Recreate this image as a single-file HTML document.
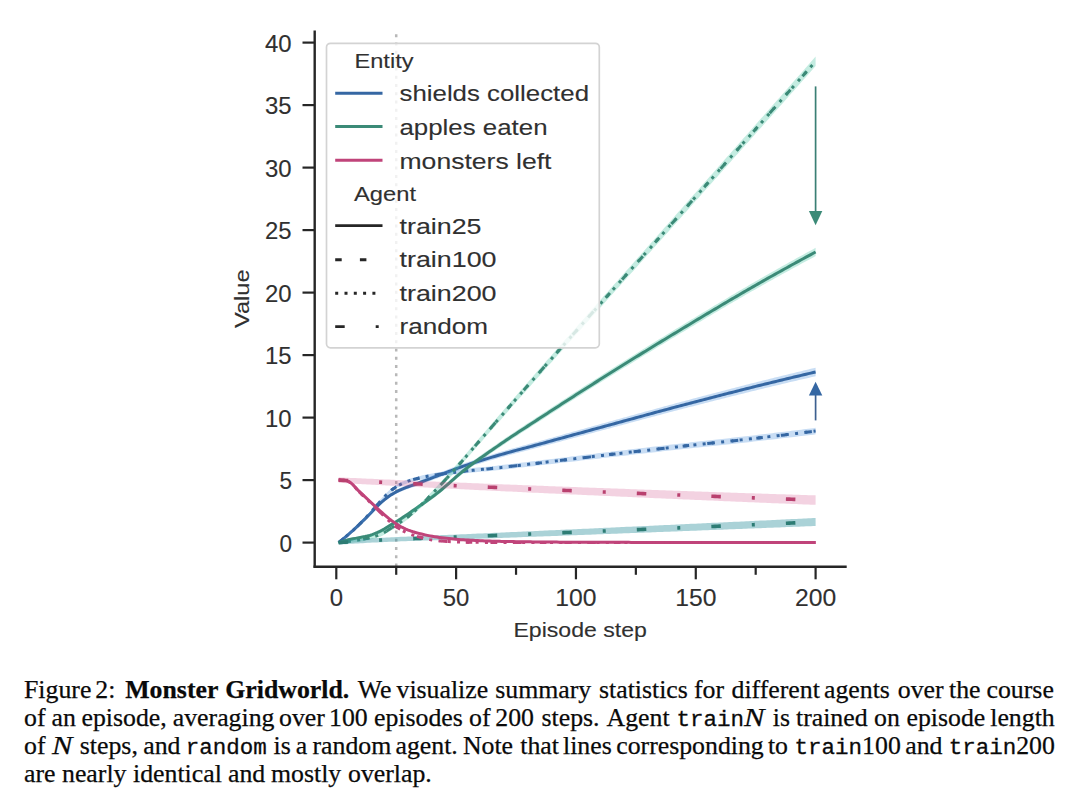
<!DOCTYPE html>
<html><head><meta charset="utf-8"><style>
html,body{margin:0;padding:0;background:#fff;width:1080px;height:810px;overflow:hidden}
svg{position:absolute;left:0;top:0}
text{font-family:"Liberation Sans",sans-serif;fill:#303030;stroke:#303030;stroke-width:0.12px}
.w{position:absolute;white-space:nowrap;font-family:"Liberation Serif",serif;font-size:25.8px;line-height:28px;color:#0a0a0a;-webkit-text-stroke:0.25px #0a0a0a}
.w b{font-weight:bold}
.nn{font-style:italic;display:inline-block;transform:scaleX(1.19);transform-origin:0 0}
.tt{font-family:"Liberation Mono",monospace;font-size:22.5px;-webkit-text-stroke:0.3px #0a0a0a}
</style></head><body>
<svg width="1080" height="810" viewBox="0 0 1080 810">
<defs><clipPath id="cp"><rect x="315" y="20" width="540" height="546"/></clipPath></defs>
<g clip-path="url(#cp)">
<line x1="396.21" y1="34.3" x2="396.21" y2="566" stroke="#b8b8b8" stroke-width="2.5" stroke-dasharray="3 5.27"/>
<path d="M338.70,541.85 L341.09,539.66 L343.49,537.57 L345.89,535.45 L348.28,533.31 L350.68,531.13 L353.08,528.91 L355.47,526.66 L357.87,524.37 L360.26,522.04 L362.66,519.65 L365.06,517.23 L367.45,514.79 L369.85,512.35 L372.25,509.81 L374.64,507.23 L377.04,504.69 L379.44,502.32 L381.83,500.16 L384.23,498.10 L386.63,496.14 L389.02,494.34 L391.42,492.71 L393.82,491.26 L396.21,489.93 L398.61,488.70 L401.01,487.56 L403.40,486.51 L405.80,485.56 L408.19,484.69 L410.59,483.84 L412.99,482.98 L415.38,482.07 L417.78,481.16 L420.18,480.23 L422.57,479.31 L424.97,478.38 L427.37,477.44 L429.76,476.51 L432.16,475.58 L434.56,474.65 L436.95,473.73 L439.35,472.80 L441.75,471.87 L444.14,470.93 L446.54,469.98 L448.94,469.04 L451.33,468.11 L453.73,467.18 L456.12,466.27 L458.52,465.37 L460.92,464.49 L463.31,463.64 L465.71,462.81 L468.11,461.99 L470.50,461.19 L472.90,460.40 L475.30,459.62 L477.69,458.85 L480.09,458.09 L482.49,457.34 L484.88,456.60 L487.28,455.87 L489.68,455.14 L492.07,454.42 L494.47,453.70 L496.87,452.99 L499.26,452.28 L501.66,451.57 L504.06,450.88 L506.45,450.19 L508.85,449.52 L511.24,448.85 L513.64,448.19 L516.04,447.53 L518.43,446.88 L520.83,446.22 L523.23,445.57 L525.62,444.92 L528.02,444.27 L530.42,443.62 L532.81,442.96 L535.21,442.30 L537.61,441.63 L540.00,440.97 L542.40,440.30 L544.80,439.63 L547.19,438.97 L549.59,438.30 L551.99,437.63 L554.38,436.96 L556.78,436.29 L559.17,435.63 L561.57,434.96 L563.97,434.29 L566.36,433.62 L568.76,432.95 L571.16,432.28 L573.55,431.61 L575.95,430.94 L578.35,430.28 L580.74,429.61 L583.14,428.94 L585.54,428.27 L587.93,427.60 L590.33,426.93 L592.73,426.27 L595.12,425.60 L597.52,424.93 L599.91,424.26 L602.31,423.60 L604.71,422.93 L607.10,422.27 L609.50,421.60 L611.90,420.94 L614.29,420.27 L616.69,419.61 L619.09,418.94 L621.48,418.28 L623.88,417.61 L626.28,416.95 L628.67,416.28 L631.07,415.61 L633.47,414.95 L635.86,414.28 L638.26,413.61 L640.66,412.95 L643.05,412.28 L645.45,411.62 L647.85,410.95 L650.24,410.29 L652.64,409.63 L655.03,408.97 L657.43,408.31 L659.83,407.65 L662.22,406.99 L664.62,406.34 L667.02,405.68 L669.41,405.03 L671.81,404.38 L674.21,403.73 L676.60,403.09 L679.00,402.44 L681.40,401.80 L683.79,401.16 L686.19,400.52 L688.59,399.88 L690.98,399.24 L693.38,398.60 L695.78,397.96 L698.17,397.32 L700.57,396.69 L702.96,396.05 L705.36,395.42 L707.76,394.78 L710.15,394.15 L712.55,393.52 L714.95,392.89 L717.34,392.26 L719.74,391.64 L722.14,391.01 L724.53,390.38 L726.93,389.76 L729.33,389.14 L731.72,388.52 L734.12,387.90 L736.52,387.28 L738.91,386.66 L741.31,386.05 L743.71,385.43 L746.10,384.82 L748.50,384.21 L750.89,383.60 L753.29,382.99 L755.69,382.39 L758.08,381.78 L760.48,381.18 L762.88,380.58 L765.27,379.98 L767.67,379.38 L770.07,378.78 L772.46,378.19 L774.86,377.59 L777.26,377.00 L779.65,376.41 L782.05,375.82 L784.45,375.24 L786.84,374.65 L789.24,374.06 L791.63,373.48 L794.03,372.90 L796.43,372.32 L798.82,371.74 L801.22,371.16 L803.62,370.59 L806.01,370.01 L808.41,369.44 L810.81,368.87 L813.20,368.29 L815.60,367.73 L815.60,376.23 L813.20,376.78 L810.81,377.33 L808.41,377.88 L806.01,378.44 L803.62,379.00 L801.22,379.56 L798.82,380.12 L796.43,380.68 L794.03,381.24 L791.63,381.80 L789.24,382.37 L786.84,382.93 L784.45,383.50 L782.05,384.07 L779.65,384.64 L777.26,385.22 L774.86,385.79 L772.46,386.36 L770.07,386.94 L767.67,387.52 L765.27,388.10 L762.88,388.68 L760.48,389.26 L758.08,389.85 L755.69,390.43 L753.29,391.02 L750.89,391.61 L748.50,392.20 L746.10,392.79 L743.71,393.38 L741.31,393.98 L738.91,394.58 L736.52,395.17 L734.12,395.77 L731.72,396.37 L729.33,396.97 L726.93,397.58 L724.53,398.18 L722.14,398.79 L719.74,399.39 L717.34,400.00 L714.95,400.61 L712.55,401.22 L710.15,401.83 L707.76,402.44 L705.36,403.05 L702.96,403.67 L700.57,404.28 L698.17,404.90 L695.78,405.52 L693.38,406.13 L690.98,406.75 L688.59,407.37 L686.19,407.99 L683.79,408.61 L681.40,409.24 L679.00,409.86 L676.60,410.48 L674.21,411.11 L671.81,411.73 L669.41,412.36 L667.02,412.99 L664.62,413.62 L662.22,414.26 L659.83,414.89 L657.43,415.53 L655.03,416.17 L652.64,416.81 L650.24,417.45 L647.85,418.09 L645.45,418.73 L643.05,419.37 L640.66,420.02 L638.26,420.66 L635.86,421.30 L633.47,421.95 L631.07,422.59 L628.67,423.24 L626.28,423.88 L623.88,424.52 L621.48,425.17 L619.09,425.81 L616.69,426.45 L614.29,427.09 L611.90,427.73 L609.50,428.38 L607.10,429.02 L604.71,429.66 L602.31,430.30 L599.91,430.95 L597.52,431.59 L595.12,432.23 L592.73,432.88 L590.33,433.52 L587.93,434.16 L585.54,434.81 L583.14,435.45 L580.74,436.09 L578.35,436.74 L575.95,437.38 L573.55,438.03 L571.16,438.67 L568.76,439.31 L566.36,439.96 L563.97,440.60 L561.57,441.24 L559.17,441.89 L556.78,442.53 L554.38,443.17 L551.99,443.81 L549.59,444.45 L547.19,445.09 L544.80,445.73 L542.40,446.37 L540.00,447.01 L537.61,447.65 L535.21,448.29 L532.81,448.93 L530.42,449.56 L528.02,450.18 L525.62,450.80 L523.23,451.43 L520.83,452.05 L518.43,452.67 L516.04,453.30 L513.64,453.93 L511.24,454.56 L508.85,455.20 L506.45,455.85 L504.06,456.50 L501.66,457.16 L499.26,457.84 L496.87,458.52 L494.47,459.20 L492.07,459.88 L489.68,460.58 L487.28,461.27 L484.88,461.98 L482.49,462.69 L480.09,463.40 L477.69,464.13 L475.30,464.87 L472.90,465.61 L470.50,466.37 L468.11,467.14 L465.71,467.92 L463.31,468.72 L460.92,469.54 L458.52,470.38 L456.12,471.24 L453.73,472.12 L451.33,473.01 L448.94,473.91 L446.54,474.81 L444.14,475.72 L441.75,476.62 L439.35,477.52 L436.95,478.40 L434.56,479.29 L432.16,480.18 L429.76,481.07 L427.37,481.96 L424.97,482.85 L422.57,483.74 L420.18,484.63 L417.78,485.51 L415.38,486.38 L412.99,487.24 L410.59,488.06 L408.19,488.86 L405.80,489.69 L403.40,490.59 L401.01,491.59 L398.61,492.68 L396.21,493.86 L393.82,495.14 L391.42,496.54 L389.02,498.11 L386.63,499.86 L384.23,501.76 L381.83,503.77 L379.44,505.87 L377.04,508.18 L374.64,510.65 L372.25,513.17 L369.85,515.63 L367.45,518.01 L365.06,520.38 L362.66,522.72 L360.26,525.03 L357.87,527.28 L355.47,529.48 L353.08,531.63 L350.68,533.74 L348.28,535.80 L345.89,537.81 L343.49,539.77 L341.09,541.65 L338.70,543.35 Z" fill="#4a90d9" opacity="0.3"/>
<path d="M338.70,542.60 L341.09,540.65 L343.49,538.67 L345.89,536.63 L348.28,534.56 L350.68,532.43 L353.08,530.27 L355.47,528.07 L357.87,525.83 L360.26,523.53 L362.66,521.19 L365.06,518.81 L367.45,516.40 L369.85,513.99 L372.25,511.49 L374.64,508.94 L377.04,506.44 L379.44,504.09 L381.83,501.97 L384.23,499.93 L386.63,498.00 L389.02,496.22 L391.42,494.62 L393.82,493.20 L396.21,491.89 L398.61,490.69 L401.01,489.58 L403.40,488.55 L405.80,487.63 L408.19,486.77 L410.59,485.95 L412.99,485.11 L415.38,484.23 L417.78,483.33 L420.18,482.43 L422.57,481.52 L424.97,480.61 L427.37,479.70 L429.76,478.79 L432.16,477.88 L434.56,476.97 L436.95,476.07 L439.35,475.16 L441.75,474.24 L444.14,473.32 L446.54,472.40 L448.94,471.48 L451.33,470.56 L453.73,469.65 L456.12,468.76 L458.52,467.88 L460.92,467.01 L463.31,466.18 L465.71,465.36 L468.11,464.57 L470.50,463.78 L472.90,463.01 L475.30,462.24 L477.69,461.49 L480.09,460.75 L482.49,460.01 L484.88,459.29 L487.28,458.57 L489.68,457.86 L492.07,457.15 L494.47,456.45 L496.87,455.75 L499.26,455.06 L501.66,454.37 L504.06,453.69 L506.45,453.02 L508.85,452.36 L511.24,451.71 L513.64,451.06 L516.04,450.41 L518.43,449.77 L520.83,449.14 L523.23,448.50 L525.62,447.86 L528.02,447.23 L530.42,446.59 L532.81,445.94 L535.21,445.30 L537.61,444.64 L540.00,443.99 L542.40,443.34 L544.80,442.68 L547.19,442.03 L549.59,441.38 L551.99,440.72 L554.38,440.07 L556.78,439.41 L559.17,438.76 L561.57,438.10 L563.97,437.44 L566.36,436.79 L568.76,436.13 L571.16,435.48 L573.55,434.82 L575.95,434.16 L578.35,433.51 L580.74,432.85 L583.14,432.19 L585.54,431.54 L587.93,430.88 L590.33,430.23 L592.73,429.57 L595.12,428.92 L597.52,428.26 L599.91,427.60 L602.31,426.95 L604.71,426.30 L607.10,425.64 L609.50,424.99 L611.90,424.33 L614.29,423.68 L616.69,423.03 L619.09,422.38 L621.48,421.72 L623.88,421.07 L626.28,420.41 L628.67,419.76 L631.07,419.10 L633.47,418.45 L635.86,417.79 L638.26,417.14 L640.66,416.48 L643.05,415.83 L645.45,415.17 L647.85,414.52 L650.24,413.87 L652.64,413.22 L655.03,412.57 L657.43,411.92 L659.83,411.27 L662.22,410.62 L664.62,409.98 L667.02,409.34 L669.41,408.70 L671.81,408.06 L674.21,407.42 L676.60,406.78 L679.00,406.15 L681.40,405.52 L683.79,404.89 L686.19,404.25 L688.59,403.62 L690.98,402.99 L693.38,402.37 L695.78,401.74 L698.17,401.11 L700.57,400.48 L702.96,399.86 L705.36,399.24 L707.76,398.61 L710.15,397.99 L712.55,397.37 L714.95,396.75 L717.34,396.13 L719.74,395.51 L722.14,394.90 L724.53,394.28 L726.93,393.67 L729.33,393.06 L731.72,392.44 L734.12,391.83 L736.52,391.23 L738.91,390.62 L741.31,390.01 L743.71,389.41 L746.10,388.81 L748.50,388.20 L750.89,387.60 L753.29,387.01 L755.69,386.41 L758.08,385.81 L760.48,385.22 L762.88,384.63 L765.27,384.04 L767.67,383.45 L770.07,382.86 L772.46,382.28 L774.86,381.69 L777.26,381.11 L779.65,380.53 L782.05,379.95 L784.45,379.37 L786.84,378.79 L789.24,378.22 L791.63,377.64 L794.03,377.07 L796.43,376.50 L798.82,375.93 L801.22,375.36 L803.62,374.79 L806.01,374.23 L808.41,373.66 L810.81,373.10 L813.20,372.54 L815.60,371.98" fill="none" stroke="#3567a3" stroke-width="3.0"/>
<path d="M338.70,541.60 L341.09,539.50 L343.49,537.44 L345.89,535.36 L348.28,533.24 L350.68,531.10 L353.08,528.92 L355.47,526.68 L357.87,524.38 L360.26,521.99 L362.66,519.52 L365.06,516.98 L367.45,514.39 L369.85,511.74 L372.25,508.97 L374.64,506.10 L377.04,503.24 L379.44,500.48 L381.83,497.88 L384.23,495.28 L386.63,492.76 L389.02,490.44 L391.42,488.41 L393.82,486.66 L396.21,485.05 L398.61,483.61 L401.01,482.32 L403.40,481.21 L405.80,480.21 L408.19,479.31 L410.59,478.51 L412.99,477.78 L415.38,477.13 L417.78,476.51 L420.18,475.93 L422.57,475.37 L424.97,474.85 L427.37,474.35 L429.76,473.88 L432.16,473.44 L434.56,473.02 L436.95,472.62 L439.35,472.24 L441.75,471.88 L444.14,471.54 L446.54,471.21 L448.94,470.90 L451.33,470.60 L453.73,470.31 L456.12,470.02 L458.52,469.74 L460.92,469.46 L463.31,469.18 L465.71,468.90 L468.11,468.63 L470.50,468.37 L472.90,468.11 L475.30,467.86 L477.69,467.62 L480.09,467.37 L482.49,467.13 L484.88,466.89 L487.28,466.64 L489.68,466.40 L492.07,466.15 L494.47,465.90 L496.87,465.64 L499.26,465.37 L501.66,465.10 L504.06,464.82 L506.45,464.54 L508.85,464.25 L511.24,463.96 L513.64,463.67 L516.04,463.37 L518.43,463.08 L520.83,462.78 L523.23,462.48 L525.62,462.18 L528.02,461.88 L530.42,461.58 L532.81,461.29 L535.21,460.99 L537.61,460.70 L540.00,460.41 L542.40,460.11 L544.80,459.82 L547.19,459.52 L549.59,459.23 L551.99,458.94 L554.38,458.64 L556.78,458.35 L559.17,458.05 L561.57,457.76 L563.97,457.47 L566.36,457.17 L568.76,456.88 L571.16,456.58 L573.55,456.29 L575.95,455.99 L578.35,455.70 L580.74,455.41 L583.14,455.11 L585.54,454.82 L587.93,454.53 L590.33,454.24 L592.73,453.94 L595.12,453.65 L597.52,453.36 L599.91,453.07 L602.31,452.78 L604.71,452.49 L607.10,452.20 L609.50,451.91 L611.90,451.62 L614.29,451.34 L616.69,451.05 L619.09,450.76 L621.48,450.48 L623.88,450.19 L626.28,449.90 L628.67,449.62 L631.07,449.33 L633.47,449.05 L635.86,448.76 L638.26,448.48 L640.66,448.20 L643.05,447.91 L645.45,447.63 L647.85,447.35 L650.24,447.07 L652.64,446.78 L655.03,446.50 L657.43,446.22 L659.83,445.94 L662.22,445.66 L664.62,445.38 L667.02,445.11 L669.41,444.83 L671.81,444.55 L674.21,444.28 L676.60,444.00 L679.00,443.73 L681.40,443.45 L683.79,443.18 L686.19,442.91 L688.59,442.64 L690.98,442.37 L693.38,442.11 L695.78,441.84 L698.17,441.58 L700.57,441.31 L702.96,441.05 L705.36,440.78 L707.76,440.52 L710.15,440.25 L712.55,439.99 L714.95,439.73 L717.34,439.46 L719.74,439.20 L722.14,438.94 L724.53,438.67 L726.93,438.41 L729.33,438.14 L731.72,437.87 L734.12,437.61 L736.52,437.34 L738.91,437.07 L741.31,436.80 L743.71,436.53 L746.10,436.25 L748.50,435.98 L750.89,435.70 L753.29,435.43 L755.69,435.15 L758.08,434.87 L760.48,434.59 L762.88,434.30 L765.27,434.02 L767.67,433.73 L770.07,433.45 L772.46,433.16 L774.86,432.87 L777.26,432.59 L779.65,432.30 L782.05,432.01 L784.45,431.71 L786.84,431.42 L789.24,431.13 L791.63,430.83 L794.03,430.54 L796.43,430.24 L798.82,429.95 L801.22,429.65 L803.62,429.35 L806.01,429.05 L808.41,428.75 L810.81,428.45 L813.20,428.15 L815.60,427.85 L815.60,434.35 L813.20,434.64 L810.81,434.93 L808.41,435.22 L806.01,435.51 L803.62,435.79 L801.22,436.08 L798.82,436.37 L796.43,436.65 L794.03,436.94 L791.63,437.22 L789.24,437.50 L786.84,437.78 L784.45,438.06 L782.05,438.34 L779.65,438.62 L777.26,438.90 L774.86,439.18 L772.46,439.45 L770.07,439.73 L767.67,440.00 L765.27,440.28 L762.88,440.55 L760.48,440.82 L758.08,441.09 L755.69,441.36 L753.29,441.62 L750.89,441.89 L748.50,442.15 L746.10,442.41 L743.71,442.67 L741.31,442.93 L738.91,443.19 L736.52,443.45 L734.12,443.70 L731.72,443.96 L729.33,444.21 L726.93,444.47 L724.53,444.72 L722.14,444.97 L719.74,445.22 L717.34,445.47 L714.95,445.72 L712.55,445.98 L710.15,446.23 L707.76,446.48 L705.36,446.73 L702.96,446.98 L700.57,447.23 L698.17,447.48 L695.78,447.74 L693.38,447.99 L690.98,448.24 L688.59,448.50 L686.19,448.75 L683.79,449.01 L681.40,449.27 L679.00,449.53 L676.60,449.79 L674.21,450.05 L671.81,450.31 L669.41,450.58 L667.02,450.84 L664.62,451.10 L662.22,451.37 L659.83,451.64 L657.43,451.90 L655.03,452.17 L652.64,452.43 L650.24,452.70 L647.85,452.97 L645.45,453.24 L643.05,453.51 L640.66,453.78 L638.26,454.05 L635.86,454.32 L633.47,454.59 L631.07,454.86 L628.67,455.13 L626.28,455.40 L623.88,455.67 L621.48,455.94 L619.09,456.21 L616.69,456.48 L614.29,456.76 L611.90,457.03 L609.50,457.30 L607.10,457.58 L604.71,457.85 L602.31,458.12 L599.91,458.40 L597.52,458.68 L595.12,458.95 L592.73,459.23 L590.33,459.50 L587.93,459.78 L585.54,460.06 L583.14,460.34 L580.74,460.61 L578.35,460.89 L575.95,461.17 L573.55,461.45 L571.16,461.72 L568.76,462.00 L566.36,462.28 L563.97,462.56 L561.57,462.84 L559.17,463.11 L556.78,463.39 L554.38,463.67 L551.99,463.95 L549.59,464.22 L547.19,464.50 L544.80,464.78 L542.40,465.05 L540.00,465.33 L537.61,465.60 L535.21,465.88 L532.81,466.16 L530.42,466.44 L528.02,466.72 L525.62,467.00 L523.23,467.28 L520.83,467.56 L518.43,467.84 L516.04,468.12 L513.64,468.40 L511.24,468.67 L508.85,468.94 L506.45,469.21 L504.06,469.47 L501.66,469.73 L499.26,469.98 L496.87,470.23 L494.47,470.47 L492.07,470.70 L489.68,470.93 L487.28,471.15 L484.88,471.38 L482.49,471.60 L480.09,471.82 L477.69,472.04 L475.30,472.27 L472.90,472.50 L470.50,472.74 L468.11,472.98 L465.71,473.23 L463.31,473.48 L460.92,473.74 L458.52,474.00 L456.12,474.25 L453.73,474.52 L451.33,474.78 L448.94,475.06 L446.54,475.35 L444.14,475.65 L441.75,475.97 L439.35,476.30 L436.95,476.66 L434.56,477.03 L432.16,477.43 L429.76,477.85 L427.37,478.29 L424.97,478.76 L422.57,479.26 L420.18,479.79 L417.78,480.34 L415.38,480.93 L412.99,481.56 L410.59,482.25 L408.19,483.03 L405.80,483.90 L403.40,484.86 L401.01,485.95 L398.61,487.20 L396.21,488.62 L393.82,490.19 L391.42,491.90 L389.02,493.90 L386.63,496.19 L384.23,498.67 L381.83,501.23 L379.44,503.80 L377.04,506.51 L374.64,509.34 L372.25,512.16 L369.85,514.89 L367.45,517.49 L365.06,520.04 L362.66,522.53 L360.26,524.95 L357.87,527.28 L355.47,529.53 L353.08,531.70 L350.68,533.81 L348.28,535.88 L345.89,537.91 L343.49,539.89 L341.09,541.81 L338.70,543.60 Z" fill="#4a90d9" opacity="0.3"/>
<path d="M338.70,542.60 L341.09,540.65 L343.49,538.67 L345.89,536.63 L348.28,534.56 L350.68,532.45 L353.08,530.31 L355.47,528.11 L357.87,525.83 L360.26,523.47 L362.66,521.03 L365.06,518.51 L367.45,515.94 L369.85,513.32 L372.25,510.57 L374.64,507.72 L377.04,504.88 L379.44,502.14 L381.83,499.56 L384.23,496.97 L386.63,494.48 L389.02,492.17 L391.42,490.16 L393.82,488.42 L396.21,486.84 L398.61,485.41 L401.01,484.14 L403.40,483.04 L405.80,482.06 L408.19,481.17 L410.59,480.38 L412.99,479.67 L415.38,479.03 L417.78,478.43 L420.18,477.86 L422.57,477.32 L424.97,476.81 L427.37,476.32 L429.76,475.87 L432.16,475.43 L434.56,475.03 L436.95,474.64 L439.35,474.27 L441.75,473.92 L444.14,473.59 L446.54,473.28 L448.94,472.98 L451.33,472.69 L453.73,472.41 L456.12,472.14 L458.52,471.87 L460.92,471.60 L463.31,471.33 L465.71,471.07 L468.11,470.81 L470.50,470.55 L472.90,470.31 L475.30,470.07 L477.69,469.83 L480.09,469.60 L482.49,469.36 L484.88,469.13 L487.28,468.90 L489.68,468.66 L492.07,468.42 L494.47,468.18 L496.87,467.93 L499.26,467.68 L501.66,467.42 L504.06,467.15 L506.45,466.87 L508.85,466.60 L511.24,466.32 L513.64,466.03 L516.04,465.75 L518.43,465.46 L520.83,465.17 L523.23,464.88 L525.62,464.59 L528.02,464.30 L530.42,464.01 L532.81,463.72 L535.21,463.44 L537.61,463.15 L540.00,462.87 L542.40,462.58 L544.80,462.30 L547.19,462.01 L549.59,461.73 L551.99,461.44 L554.38,461.16 L556.78,460.87 L559.17,460.58 L561.57,460.30 L563.97,460.01 L566.36,459.73 L568.76,459.44 L571.16,459.15 L573.55,458.87 L575.95,458.58 L578.35,458.30 L580.74,458.01 L583.14,457.72 L585.54,457.44 L587.93,457.15 L590.33,456.87 L592.73,456.59 L595.12,456.30 L597.52,456.02 L599.91,455.73 L602.31,455.45 L604.71,455.17 L607.10,454.89 L609.50,454.61 L611.90,454.33 L614.29,454.05 L616.69,453.77 L619.09,453.49 L621.48,453.21 L623.88,452.93 L626.28,452.65 L628.67,452.37 L631.07,452.09 L633.47,451.82 L635.86,451.54 L638.26,451.26 L640.66,450.99 L643.05,450.71 L645.45,450.43 L647.85,450.16 L650.24,449.88 L652.64,449.61 L655.03,449.34 L657.43,449.06 L659.83,448.79 L662.22,448.52 L664.62,448.24 L667.02,447.97 L669.41,447.70 L671.81,447.43 L674.21,447.16 L676.60,446.89 L679.00,446.63 L681.40,446.36 L683.79,446.10 L686.19,445.83 L688.59,445.57 L690.98,445.31 L693.38,445.05 L695.78,444.79 L698.17,444.53 L700.57,444.27 L702.96,444.01 L705.36,443.75 L707.76,443.50 L710.15,443.24 L712.55,442.98 L714.95,442.73 L717.34,442.47 L719.74,442.21 L722.14,441.95 L724.53,441.69 L726.93,441.44 L729.33,441.18 L731.72,440.92 L734.12,440.66 L736.52,440.39 L738.91,440.13 L741.31,439.87 L743.71,439.60 L746.10,439.33 L748.50,439.07 L750.89,438.80 L753.29,438.53 L755.69,438.25 L758.08,437.98 L760.48,437.70 L762.88,437.43 L765.27,437.15 L767.67,436.87 L770.07,436.59 L772.46,436.31 L774.86,436.03 L777.26,435.74 L779.65,435.46 L782.05,435.18 L784.45,434.89 L786.84,434.60 L789.24,434.32 L791.63,434.03 L794.03,433.74 L796.43,433.45 L798.82,433.16 L801.22,432.87 L803.62,432.57 L806.01,432.28 L808.41,431.99 L810.81,431.69 L813.20,431.40 L815.60,431.10" fill="none" stroke="#3567a3" stroke-width="3.0" stroke-dasharray="6.5 18.2"/>
<path d="M338.70,542.60 L341.09,540.65 L343.49,538.67 L345.89,536.63 L348.28,534.56 L350.68,532.45 L353.08,530.31 L355.47,528.11 L357.87,525.83 L360.26,523.47 L362.66,521.03 L365.06,518.51 L367.45,515.94 L369.85,513.32 L372.25,510.57 L374.64,507.72 L377.04,504.88 L379.44,502.14 L381.83,499.56 L384.23,496.97 L386.63,494.48 L389.02,492.17 L391.42,490.16 L393.82,488.42 L396.21,486.84 L398.61,485.41 L401.01,484.14 L403.40,483.04 L405.80,482.06 L408.19,481.17 L410.59,480.38 L412.99,479.67 L415.38,479.03 L417.78,478.43 L420.18,477.86 L422.57,477.32 L424.97,476.81 L427.37,476.32 L429.76,475.87 L432.16,475.43 L434.56,475.03 L436.95,474.64 L439.35,474.27 L441.75,473.92 L444.14,473.59 L446.54,473.28 L448.94,472.98 L451.33,472.69 L453.73,472.41 L456.12,472.14 L458.52,471.87 L460.92,471.60 L463.31,471.33 L465.71,471.07 L468.11,470.81 L470.50,470.55 L472.90,470.31 L475.30,470.07 L477.69,469.83 L480.09,469.60 L482.49,469.36 L484.88,469.13 L487.28,468.90 L489.68,468.66 L492.07,468.42 L494.47,468.18 L496.87,467.93 L499.26,467.68 L501.66,467.42 L504.06,467.15 L506.45,466.87 L508.85,466.60 L511.24,466.32 L513.64,466.03 L516.04,465.75 L518.43,465.46 L520.83,465.17 L523.23,464.88 L525.62,464.59 L528.02,464.30 L530.42,464.01 L532.81,463.72 L535.21,463.44 L537.61,463.15 L540.00,462.87 L542.40,462.58 L544.80,462.30 L547.19,462.01 L549.59,461.73 L551.99,461.44 L554.38,461.16 L556.78,460.87 L559.17,460.58 L561.57,460.30 L563.97,460.01 L566.36,459.73 L568.76,459.44 L571.16,459.15 L573.55,458.87 L575.95,458.58 L578.35,458.30 L580.74,458.01 L583.14,457.72 L585.54,457.44 L587.93,457.15 L590.33,456.87 L592.73,456.59 L595.12,456.30 L597.52,456.02 L599.91,455.73 L602.31,455.45 L604.71,455.17 L607.10,454.89 L609.50,454.61 L611.90,454.33 L614.29,454.05 L616.69,453.77 L619.09,453.49 L621.48,453.21 L623.88,452.93 L626.28,452.65 L628.67,452.37 L631.07,452.09 L633.47,451.82 L635.86,451.54 L638.26,451.26 L640.66,450.99 L643.05,450.71 L645.45,450.43 L647.85,450.16 L650.24,449.88 L652.64,449.61 L655.03,449.34 L657.43,449.06 L659.83,448.79 L662.22,448.52 L664.62,448.24 L667.02,447.97 L669.41,447.70 L671.81,447.43 L674.21,447.16 L676.60,446.89 L679.00,446.63 L681.40,446.36 L683.79,446.10 L686.19,445.83 L688.59,445.57 L690.98,445.31 L693.38,445.05 L695.78,444.79 L698.17,444.53 L700.57,444.27 L702.96,444.01 L705.36,443.75 L707.76,443.50 L710.15,443.24 L712.55,442.98 L714.95,442.73 L717.34,442.47 L719.74,442.21 L722.14,441.95 L724.53,441.69 L726.93,441.44 L729.33,441.18 L731.72,440.92 L734.12,440.66 L736.52,440.39 L738.91,440.13 L741.31,439.87 L743.71,439.60 L746.10,439.33 L748.50,439.07 L750.89,438.80 L753.29,438.53 L755.69,438.25 L758.08,437.98 L760.48,437.70 L762.88,437.43 L765.27,437.15 L767.67,436.87 L770.07,436.59 L772.46,436.31 L774.86,436.03 L777.26,435.74 L779.65,435.46 L782.05,435.18 L784.45,434.89 L786.84,434.60 L789.24,434.32 L791.63,434.03 L794.03,433.74 L796.43,433.45 L798.82,433.16 L801.22,432.87 L803.62,432.57 L806.01,432.28 L808.41,431.99 L810.81,431.69 L813.20,431.40 L815.60,431.10" fill="none" stroke="#3567a3" stroke-width="3.0" stroke-dasharray="3 6.3"/>
<path d="M338.70,541.98 L341.09,540.94 L343.49,540.10 L345.89,539.35 L348.28,538.70 L350.68,538.12 L353.08,537.59 L355.47,537.08 L357.87,536.57 L360.26,536.07 L362.66,535.60 L365.06,535.12 L367.45,534.59 L369.85,533.95 L372.25,533.13 L374.64,532.16 L377.04,531.07 L379.44,529.91 L381.83,528.70 L384.23,527.33 L386.63,525.86 L389.02,524.34 L391.42,522.83 L393.82,521.35 L396.21,519.85 L398.61,518.34 L401.01,516.79 L403.40,515.22 L405.80,513.60 L408.19,511.95 L410.59,510.28 L412.99,508.59 L415.38,506.90 L417.78,505.22 L420.18,503.53 L422.57,501.84 L424.97,500.13 L427.37,498.40 L429.76,496.65 L432.16,494.87 L434.56,493.06 L436.95,491.20 L439.35,489.28 L441.75,487.28 L444.14,485.21 L446.54,483.11 L448.94,480.97 L451.33,478.82 L453.73,476.67 L456.12,474.54 L458.52,472.45 L460.92,470.41 L463.31,468.44 L465.71,466.55 L468.11,464.69 L470.50,462.86 L472.90,461.06 L475.30,459.28 L477.69,457.52 L480.09,455.78 L482.49,454.06 L484.88,452.36 L487.28,450.66 L489.68,448.98 L492.07,447.31 L494.47,445.64 L496.87,443.98 L499.26,442.31 L501.66,440.65 L504.06,439.01 L506.45,437.37 L508.85,435.75 L511.24,434.14 L513.64,432.53 L516.04,430.94 L518.43,429.35 L520.83,427.77 L523.23,426.19 L525.62,424.61 L528.02,423.04 L530.42,421.47 L532.81,419.90 L535.21,418.32 L537.61,416.75 L540.00,415.17 L542.40,413.60 L544.80,412.03 L547.19,410.46 L549.59,408.89 L551.99,407.33 L554.38,405.76 L556.78,404.20 L559.17,402.64 L561.57,401.08 L563.97,399.52 L566.36,397.97 L568.76,396.41 L571.16,394.86 L573.55,393.31 L575.95,391.76 L578.35,390.21 L580.74,388.67 L583.14,387.12 L585.54,385.58 L587.93,384.04 L590.33,382.51 L592.73,380.97 L595.12,379.44 L597.52,377.90 L599.91,376.38 L602.31,374.85 L604.71,373.32 L607.10,371.80 L609.50,370.28 L611.90,368.76 L614.29,367.24 L616.69,365.73 L619.09,364.21 L621.48,362.70 L623.88,361.20 L626.28,359.69 L628.67,358.19 L631.07,356.69 L633.47,355.19 L635.86,353.69 L638.26,352.20 L640.66,350.71 L643.05,349.22 L645.45,347.73 L647.85,346.25 L650.24,344.77 L652.64,343.29 L655.03,341.81 L657.43,340.33 L659.83,338.86 L662.22,337.38 L664.62,335.91 L667.02,334.45 L669.41,332.98 L671.81,331.52 L674.21,330.05 L676.60,328.59 L679.00,327.13 L681.40,325.68 L683.79,324.22 L686.19,322.76 L688.59,321.30 L690.98,319.85 L693.38,318.39 L695.78,316.94 L698.17,315.49 L700.57,314.03 L702.96,312.59 L705.36,311.14 L707.76,309.69 L710.15,308.25 L712.55,306.81 L714.95,305.37 L717.34,303.93 L719.74,302.49 L722.14,301.06 L724.53,299.63 L726.93,298.20 L729.33,296.78 L731.72,295.36 L734.12,293.94 L736.52,292.53 L738.91,291.12 L741.31,289.71 L743.71,288.30 L746.10,286.90 L748.50,285.51 L750.89,284.11 L753.29,282.72 L755.69,281.34 L758.08,279.96 L760.48,278.58 L762.88,277.21 L765.27,275.84 L767.67,274.47 L770.07,273.11 L772.46,271.75 L774.86,270.40 L777.26,269.04 L779.65,267.69 L782.05,266.35 L784.45,265.01 L786.84,263.67 L789.24,262.33 L791.63,261.00 L794.03,259.67 L796.43,258.35 L798.82,257.02 L801.22,255.70 L803.62,254.39 L806.01,253.07 L808.41,251.76 L810.81,250.46 L813.20,249.15 L815.60,247.85 L815.60,256.10 L813.20,257.38 L810.81,258.67 L808.41,259.96 L806.01,261.25 L803.62,262.55 L801.22,263.85 L798.82,265.15 L796.43,266.45 L794.03,267.76 L791.63,269.07 L789.24,270.39 L786.84,271.70 L784.45,273.02 L782.05,274.35 L779.65,275.68 L777.26,277.01 L774.86,278.34 L772.46,279.68 L770.07,281.02 L767.67,282.36 L765.27,283.71 L762.88,285.06 L760.48,286.42 L758.08,287.77 L755.69,289.14 L753.29,290.50 L750.89,291.87 L748.50,293.24 L746.10,294.62 L743.71,296.00 L741.31,297.39 L738.91,298.78 L736.52,300.17 L734.12,301.57 L731.72,302.96 L729.33,304.37 L726.93,305.77 L724.53,307.18 L722.14,308.59 L719.74,310.00 L717.34,311.42 L714.95,312.83 L712.55,314.25 L710.15,315.68 L707.76,317.10 L705.36,318.53 L702.96,319.95 L700.57,321.38 L698.17,322.81 L695.78,324.25 L693.38,325.68 L690.98,327.11 L688.59,328.55 L686.19,329.98 L683.79,331.42 L681.40,332.86 L679.00,334.30 L676.60,335.74 L674.21,337.18 L671.81,338.62 L669.41,340.06 L667.02,341.50 L664.62,342.95 L662.22,344.40 L659.83,345.85 L657.43,347.30 L655.03,348.76 L652.64,350.22 L650.24,351.67 L647.85,353.13 L645.45,354.60 L643.05,356.06 L640.66,357.53 L638.26,359.00 L635.86,360.47 L633.47,361.94 L631.07,363.42 L628.67,364.90 L626.28,366.38 L623.88,367.86 L621.48,369.35 L619.09,370.83 L616.69,372.32 L614.29,373.81 L611.90,375.31 L609.50,376.80 L607.10,378.30 L604.71,379.80 L602.31,381.30 L599.91,382.81 L597.52,384.31 L595.12,385.82 L592.73,387.33 L590.33,388.84 L587.93,390.35 L585.54,391.87 L583.14,393.39 L580.74,394.90 L578.35,396.43 L575.95,397.95 L573.55,399.47 L571.16,401.00 L568.76,402.52 L566.36,404.05 L563.97,405.58 L561.57,407.12 L559.17,408.65 L556.78,410.18 L554.38,411.72 L551.99,413.26 L549.59,414.80 L547.19,416.34 L544.80,417.88 L542.40,419.43 L540.00,420.97 L537.61,422.52 L535.21,424.07 L532.81,425.61 L530.42,427.16 L528.02,428.70 L525.62,430.24 L523.23,431.79 L520.83,433.34 L518.43,434.90 L516.04,436.46 L513.64,438.02 L511.24,439.60 L508.85,441.18 L506.45,442.77 L504.06,444.38 L501.66,446.00 L499.26,447.63 L496.87,449.26 L494.47,450.89 L492.07,452.53 L489.68,454.17 L487.28,455.82 L484.88,457.48 L482.49,459.16 L480.09,460.84 L477.69,462.55 L475.30,464.27 L472.90,466.02 L470.50,467.79 L468.11,469.59 L465.71,471.41 L463.31,473.27 L460.92,475.21 L458.52,477.21 L456.12,479.27 L453.73,481.36 L451.33,483.47 L448.94,485.58 L446.54,487.68 L444.14,489.76 L441.75,491.78 L439.35,493.74 L436.95,495.63 L434.56,497.44 L432.16,499.22 L429.76,500.96 L427.37,502.67 L424.97,504.36 L422.57,506.02 L420.18,507.67 L417.78,509.32 L415.38,510.96 L412.99,512.61 L410.59,514.25 L408.19,515.87 L405.80,517.48 L403.40,519.04 L401.01,520.57 L398.61,522.07 L396.21,523.53 L393.82,524.98 L391.42,526.41 L389.02,527.86 L386.63,529.33 L384.23,530.74 L381.83,532.05 L379.44,533.21 L377.04,534.31 L374.64,535.33 L372.25,536.24 L369.85,536.99 L367.45,537.56 L365.06,538.02 L362.66,538.42 L360.26,538.81 L357.87,539.22 L355.47,539.65 L353.08,540.06 L350.68,540.48 L348.28,540.94 L345.89,541.46 L343.49,542.05 L341.09,542.68 L338.70,543.23 Z" fill="#3cc09a" opacity="0.3"/>
<path d="M338.70,542.60 L341.09,541.81 L343.49,541.07 L345.89,540.40 L348.28,539.82 L350.68,539.30 L353.08,538.82 L355.47,538.37 L357.87,537.90 L360.26,537.44 L362.66,537.01 L365.06,536.57 L367.45,536.07 L369.85,535.47 L372.25,534.69 L374.64,533.74 L377.04,532.69 L379.44,531.56 L381.83,530.37 L384.23,529.04 L386.63,527.59 L389.02,526.10 L391.42,524.62 L393.82,523.16 L396.21,521.69 L398.61,520.20 L401.01,518.68 L403.40,517.13 L405.80,515.54 L408.19,513.91 L410.59,512.26 L412.99,510.60 L415.38,508.93 L417.78,507.27 L420.18,505.60 L422.57,503.93 L424.97,502.24 L427.37,500.54 L429.76,498.81 L432.16,497.05 L434.56,495.25 L436.95,493.41 L439.35,491.51 L441.75,489.53 L444.14,487.48 L446.54,485.40 L448.94,483.28 L451.33,481.14 L453.73,479.01 L456.12,476.90 L458.52,474.83 L460.92,472.81 L463.31,470.86 L465.71,468.98 L468.11,467.14 L470.50,465.32 L472.90,463.54 L475.30,461.77 L477.69,460.03 L480.09,458.31 L482.49,456.61 L484.88,454.92 L487.28,453.24 L489.68,451.58 L492.07,449.92 L494.47,448.27 L496.87,446.62 L499.26,444.97 L501.66,443.32 L504.06,441.69 L506.45,440.07 L508.85,438.46 L511.24,436.87 L513.64,435.28 L516.04,433.70 L518.43,432.12 L520.83,430.55 L523.23,428.99 L525.62,427.43 L528.02,425.87 L530.42,424.31 L532.81,422.75 L535.21,421.19 L537.61,419.63 L540.00,418.07 L542.40,416.51 L544.80,414.96 L547.19,413.40 L549.59,411.85 L551.99,410.29 L554.38,408.74 L556.78,407.19 L559.17,405.64 L561.57,404.10 L563.97,402.55 L566.36,401.01 L568.76,399.47 L571.16,397.93 L573.55,396.39 L575.95,394.85 L578.35,393.32 L580.74,391.79 L583.14,390.26 L585.54,388.73 L587.93,387.20 L590.33,385.67 L592.73,384.15 L595.12,382.63 L597.52,381.11 L599.91,379.59 L602.31,378.07 L604.71,376.56 L607.10,375.05 L609.50,373.54 L611.90,372.03 L614.29,370.53 L616.69,369.02 L619.09,367.52 L621.48,366.03 L623.88,364.53 L626.28,363.04 L628.67,361.54 L631.07,360.05 L633.47,358.57 L635.86,357.08 L638.26,355.60 L640.66,354.12 L643.05,352.64 L645.45,351.17 L647.85,349.69 L650.24,348.22 L652.64,346.75 L655.03,345.28 L657.43,343.82 L659.83,342.35 L662.22,340.89 L664.62,339.43 L667.02,337.98 L669.41,336.52 L671.81,335.07 L674.21,333.62 L676.60,332.17 L679.00,330.72 L681.40,329.27 L683.79,327.82 L686.19,326.37 L688.59,324.93 L690.98,323.48 L693.38,322.04 L695.78,320.59 L698.17,319.15 L700.57,317.71 L702.96,316.27 L705.36,314.83 L707.76,313.40 L710.15,311.96 L712.55,310.53 L714.95,309.10 L717.34,307.67 L719.74,306.25 L722.14,304.82 L724.53,303.40 L726.93,301.99 L729.33,300.57 L731.72,299.16 L734.12,297.75 L736.52,296.35 L738.91,294.95 L741.31,293.55 L743.71,292.15 L746.10,290.76 L748.50,289.37 L750.89,287.99 L753.29,286.61 L755.69,285.24 L758.08,283.87 L760.48,282.50 L762.88,281.13 L765.27,279.77 L767.67,278.42 L770.07,277.06 L772.46,275.71 L774.86,274.37 L777.26,273.03 L779.65,271.69 L782.05,270.35 L784.45,269.02 L786.84,267.69 L789.24,266.36 L791.63,265.04 L794.03,263.72 L796.43,262.40 L798.82,261.09 L801.22,259.78 L803.62,258.47 L806.01,257.16 L808.41,255.86 L810.81,254.56 L813.20,253.27 L815.60,251.98" fill="none" stroke="#3b8a77" stroke-width="3.0"/>
<path d="M338.70,541.60 L341.09,541.12 L343.49,540.76 L345.89,540.39 L348.28,540.02 L350.68,539.63 L353.08,539.23 L355.47,538.81 L357.87,538.39 L360.26,537.94 L362.66,537.46 L365.06,536.94 L367.45,536.38 L369.85,535.77 L372.25,535.13 L374.64,534.42 L377.04,533.64 L379.44,532.75 L381.83,531.71 L384.23,530.40 L386.63,528.90 L389.02,527.32 L391.42,525.75 L393.82,524.23 L396.21,522.67 L398.61,521.08 L401.01,519.42 L403.40,517.70 L405.80,515.92 L408.19,514.06 L410.59,512.13 L412.99,510.11 L415.38,508.00 L417.78,505.77 L420.18,503.46 L422.57,501.08 L424.97,498.64 L427.37,496.17 L429.76,493.68 L432.16,491.19 L434.56,488.69 L436.95,486.15 L439.35,483.58 L441.75,480.98 L444.14,478.36 L446.54,475.72 L448.94,473.06 L451.33,470.39 L453.73,467.70 L456.12,465.01 L458.52,462.28 L460.92,459.53 L463.31,456.76 L465.71,453.97 L468.11,451.17 L470.50,448.37 L472.90,445.56 L475.30,442.77 L477.69,439.98 L480.09,437.21 L482.49,434.44 L484.88,431.67 L487.28,428.90 L489.68,426.13 L492.07,423.37 L494.47,420.60 L496.87,417.83 L499.26,415.07 L501.66,412.30 L504.06,409.54 L506.45,406.77 L508.85,404.01 L511.24,401.25 L513.64,398.49 L516.04,395.74 L518.43,392.98 L520.83,390.23 L523.23,387.48 L525.62,384.73 L528.02,381.98 L530.42,379.24 L532.81,376.50 L535.21,373.76 L537.61,371.02 L540.00,368.29 L542.40,365.56 L544.80,362.83 L547.19,360.11 L549.59,357.38 L551.99,354.66 L554.38,351.94 L556.78,349.22 L559.17,346.50 L561.57,343.79 L563.97,341.07 L566.36,338.36 L568.76,335.65 L571.16,332.94 L573.55,330.23 L575.95,327.52 L578.35,324.82 L580.74,322.11 L583.14,319.41 L585.54,316.71 L587.93,314.00 L590.33,311.30 L592.73,308.60 L595.12,305.90 L597.52,303.21 L599.91,300.51 L602.31,297.81 L604.71,295.11 L607.10,292.41 L609.50,289.72 L611.90,287.02 L614.29,284.32 L616.69,281.63 L619.09,278.93 L621.48,276.24 L623.88,273.54 L626.28,270.84 L628.67,268.15 L631.07,265.45 L633.47,262.75 L635.86,260.05 L638.26,257.36 L640.66,254.66 L643.05,251.96 L645.45,249.26 L647.85,246.56 L650.24,243.85 L652.64,241.15 L655.03,238.45 L657.43,235.74 L659.83,233.03 L662.22,230.33 L664.62,227.62 L667.02,224.91 L669.41,222.20 L671.81,219.49 L674.21,216.78 L676.60,214.07 L679.00,211.36 L681.40,208.65 L683.79,205.93 L686.19,203.22 L688.59,200.51 L690.98,197.80 L693.38,195.09 L695.78,192.38 L698.17,189.67 L700.57,186.95 L702.96,184.24 L705.36,181.53 L707.76,178.82 L710.15,176.10 L712.55,173.39 L714.95,170.68 L717.34,167.97 L719.74,165.25 L722.14,162.54 L724.53,159.83 L726.93,157.11 L729.33,154.40 L731.72,151.69 L734.12,148.97 L736.52,146.26 L738.91,143.54 L741.31,140.83 L743.71,138.11 L746.10,135.40 L748.50,132.68 L750.89,129.97 L753.29,127.25 L755.69,124.54 L758.08,121.82 L760.48,119.11 L762.88,116.39 L765.27,113.67 L767.67,110.96 L770.07,108.24 L772.46,105.53 L774.86,102.81 L777.26,100.09 L779.65,97.38 L782.05,94.66 L784.45,91.94 L786.84,89.22 L789.24,86.51 L791.63,83.79 L794.03,81.07 L796.43,78.35 L798.82,75.63 L801.22,72.91 L803.62,70.20 L806.01,67.48 L808.41,64.76 L810.81,62.04 L813.20,59.32 L815.60,56.60 L815.60,66.10 L813.20,68.80 L810.81,71.50 L808.41,74.20 L806.01,76.90 L803.62,79.60 L801.22,82.30 L798.82,85.00 L796.43,87.70 L794.03,90.40 L791.63,93.10 L789.24,95.80 L786.84,98.49 L784.45,101.19 L782.05,103.89 L779.65,106.59 L777.26,109.28 L774.86,111.98 L772.46,114.68 L770.07,117.38 L767.67,120.07 L765.27,122.77 L762.88,125.46 L760.48,128.16 L758.08,130.86 L755.69,133.55 L753.29,136.25 L750.89,138.94 L748.50,141.64 L746.10,144.33 L743.71,147.03 L741.31,149.72 L738.91,152.41 L736.52,155.11 L734.12,157.80 L731.72,160.49 L729.33,163.19 L726.93,165.88 L724.53,168.57 L722.14,171.26 L719.74,173.96 L717.34,176.65 L714.95,179.34 L712.55,182.03 L710.15,184.72 L707.76,187.41 L705.36,190.11 L702.96,192.80 L700.57,195.49 L698.17,198.18 L695.78,200.87 L693.38,203.56 L690.98,206.25 L688.59,208.94 L686.19,211.63 L683.79,214.31 L681.40,217.00 L679.00,219.69 L676.60,222.38 L674.21,225.07 L671.81,227.76 L669.41,230.44 L667.02,233.13 L664.62,235.82 L662.22,238.50 L659.83,241.19 L657.43,243.87 L655.03,246.55 L652.64,249.24 L650.24,251.91 L647.85,254.59 L645.45,257.27 L643.05,259.95 L640.66,262.62 L638.26,265.30 L635.86,267.97 L633.47,270.65 L631.07,273.32 L628.67,275.99 L626.28,278.67 L623.88,281.34 L621.48,284.01 L619.09,286.68 L616.69,289.35 L614.29,292.03 L611.90,294.70 L609.50,297.37 L607.10,300.04 L604.71,302.71 L602.31,305.39 L599.91,308.06 L597.52,310.73 L595.12,313.40 L592.73,316.08 L590.33,318.75 L587.93,321.43 L585.54,324.10 L583.14,326.78 L580.74,329.46 L578.35,332.13 L575.95,334.81 L573.55,337.49 L571.16,340.18 L568.76,342.86 L566.36,345.54 L563.97,348.23 L561.57,350.91 L559.17,353.60 L556.78,356.29 L554.38,358.98 L551.99,361.67 L549.59,364.37 L547.19,367.06 L544.80,369.76 L542.40,372.46 L540.00,375.16 L537.61,377.87 L535.21,380.57 L532.81,383.28 L530.42,385.99 L528.02,388.71 L525.62,391.42 L523.23,394.14 L520.83,396.86 L518.43,399.58 L516.04,402.31 L513.64,405.03 L511.24,407.76 L508.85,410.49 L506.45,413.22 L504.06,415.95 L501.66,418.68 L499.26,421.42 L496.87,424.15 L494.47,426.88 L492.07,429.62 L489.68,432.35 L487.28,435.09 L484.88,437.82 L482.49,440.56 L480.09,443.29 L477.69,446.03 L475.30,448.78 L472.90,451.54 L470.50,454.31 L468.11,457.08 L465.71,459.84 L463.31,462.59 L460.92,465.32 L458.52,468.04 L456.12,470.73 L453.73,473.38 L451.33,476.03 L448.94,478.66 L446.54,481.28 L444.14,483.89 L441.75,486.47 L439.35,489.02 L436.95,491.55 L434.56,494.05 L432.16,496.51 L429.76,498.96 L427.37,501.41 L424.97,503.83 L422.57,506.23 L420.18,508.56 L417.78,510.83 L415.38,513.00 L412.99,515.07 L410.59,517.04 L408.19,518.92 L405.80,520.73 L403.40,522.46 L401.01,524.14 L398.61,525.74 L396.21,527.28 L393.82,528.78 L391.42,530.25 L389.02,531.76 L386.63,533.28 L384.23,534.72 L381.83,535.97 L379.44,536.95 L377.04,537.77 L374.64,538.48 L372.25,539.12 L369.85,539.69 L367.45,540.22 L365.06,540.70 L362.66,541.14 L360.26,541.54 L357.87,541.89 L355.47,542.22 L353.08,542.53 L350.68,542.82 L348.28,543.08 L345.89,543.31 L343.49,543.51 L341.09,543.65 L338.70,543.60 Z" fill="#3cc09a" opacity="0.3"/>
<path d="M338.70,542.60 L341.09,542.38 L343.49,542.13 L345.89,541.85 L348.28,541.55 L350.68,541.22 L353.08,540.88 L355.47,540.51 L357.87,540.14 L360.26,539.74 L362.66,539.30 L365.06,538.82 L367.45,538.30 L369.85,537.73 L372.25,537.12 L374.64,536.45 L377.04,535.70 L379.44,534.85 L381.83,533.84 L384.23,532.56 L386.63,531.09 L389.02,529.54 L391.42,528.00 L393.82,526.50 L396.21,524.98 L398.61,523.41 L401.01,521.78 L403.40,520.08 L405.80,518.32 L408.19,516.49 L410.59,514.58 L412.99,512.59 L415.38,510.50 L417.78,508.30 L420.18,506.01 L422.57,503.65 L424.97,501.24 L427.37,498.79 L429.76,496.32 L432.16,493.85 L434.56,491.37 L436.95,488.85 L439.35,486.30 L441.75,483.73 L444.14,481.12 L446.54,478.50 L448.94,475.86 L451.33,473.21 L453.73,470.54 L456.12,467.87 L458.52,465.16 L460.92,462.43 L463.31,459.67 L465.71,456.90 L468.11,454.12 L470.50,451.34 L472.90,448.55 L475.30,445.77 L477.69,443.00 L480.09,440.25 L482.49,437.50 L484.88,434.75 L487.28,432.00 L489.68,429.24 L492.07,426.49 L494.47,423.74 L496.87,420.99 L499.26,418.24 L501.66,415.49 L504.06,412.74 L506.45,410.00 L508.85,407.25 L511.24,404.51 L513.64,401.76 L516.04,399.02 L518.43,396.28 L520.83,393.54 L523.23,390.81 L525.62,388.08 L528.02,385.34 L530.42,382.62 L532.81,379.89 L535.21,377.17 L537.61,374.45 L540.00,371.73 L542.40,369.01 L544.80,366.30 L547.19,363.58 L549.59,360.87 L551.99,358.17 L554.38,355.46 L556.78,352.75 L559.17,350.05 L561.57,347.35 L563.97,344.65 L566.36,341.95 L568.76,339.25 L571.16,336.56 L573.55,333.86 L575.95,331.17 L578.35,328.48 L580.74,325.78 L583.14,323.09 L585.54,320.40 L587.93,317.72 L590.33,315.03 L592.73,312.34 L595.12,309.65 L597.52,306.97 L599.91,304.28 L602.31,301.60 L604.71,298.91 L607.10,296.23 L609.50,293.54 L611.90,290.86 L614.29,288.18 L616.69,285.49 L619.09,282.81 L621.48,280.12 L623.88,277.44 L626.28,274.76 L628.67,272.07 L631.07,269.39 L633.47,266.70 L635.86,264.01 L638.26,261.33 L640.66,258.64 L643.05,255.95 L645.45,253.26 L647.85,250.57 L650.24,247.88 L652.64,245.19 L655.03,242.50 L657.43,239.81 L659.83,237.11 L662.22,234.42 L664.62,231.72 L667.02,229.02 L669.41,226.32 L671.81,223.62 L674.21,220.92 L676.60,218.22 L679.00,215.52 L681.40,212.82 L683.79,210.12 L686.19,207.42 L688.59,204.72 L690.98,202.02 L693.38,199.32 L695.78,196.62 L698.17,193.92 L700.57,191.22 L702.96,188.52 L705.36,185.82 L707.76,183.12 L710.15,180.41 L712.55,177.71 L714.95,175.01 L717.34,172.31 L719.74,169.60 L722.14,166.90 L724.53,164.20 L726.93,161.50 L729.33,158.79 L731.72,156.09 L734.12,153.39 L736.52,150.68 L738.91,147.98 L741.31,145.27 L743.71,142.57 L746.10,139.86 L748.50,137.16 L750.89,134.45 L753.29,131.75 L755.69,129.04 L758.08,126.34 L760.48,123.63 L762.88,120.93 L765.27,118.22 L767.67,115.52 L770.07,112.81 L772.46,110.10 L774.86,107.40 L777.26,104.69 L779.65,101.98 L782.05,99.27 L784.45,96.57 L786.84,93.86 L789.24,91.15 L791.63,88.44 L794.03,85.73 L796.43,83.03 L798.82,80.32 L801.22,77.61 L803.62,74.90 L806.01,72.19 L808.41,69.48 L810.81,66.77 L813.20,64.06 L815.60,61.35" fill="none" stroke="#3b8a77" stroke-width="3.0" stroke-dasharray="6.5 18.2"/>
<path d="M338.70,542.60 L341.09,542.38 L343.49,542.13 L345.89,541.85 L348.28,541.55 L350.68,541.22 L353.08,540.88 L355.47,540.51 L357.87,540.14 L360.26,539.74 L362.66,539.30 L365.06,538.82 L367.45,538.30 L369.85,537.73 L372.25,537.12 L374.64,536.45 L377.04,535.70 L379.44,534.85 L381.83,533.84 L384.23,532.56 L386.63,531.09 L389.02,529.54 L391.42,528.00 L393.82,526.50 L396.21,524.98 L398.61,523.41 L401.01,521.78 L403.40,520.08 L405.80,518.32 L408.19,516.49 L410.59,514.58 L412.99,512.59 L415.38,510.50 L417.78,508.30 L420.18,506.01 L422.57,503.65 L424.97,501.24 L427.37,498.79 L429.76,496.32 L432.16,493.85 L434.56,491.37 L436.95,488.85 L439.35,486.30 L441.75,483.73 L444.14,481.12 L446.54,478.50 L448.94,475.86 L451.33,473.21 L453.73,470.54 L456.12,467.87 L458.52,465.16 L460.92,462.43 L463.31,459.67 L465.71,456.90 L468.11,454.12 L470.50,451.34 L472.90,448.55 L475.30,445.77 L477.69,443.00 L480.09,440.25 L482.49,437.50 L484.88,434.75 L487.28,432.00 L489.68,429.24 L492.07,426.49 L494.47,423.74 L496.87,420.99 L499.26,418.24 L501.66,415.49 L504.06,412.74 L506.45,410.00 L508.85,407.25 L511.24,404.51 L513.64,401.76 L516.04,399.02 L518.43,396.28 L520.83,393.54 L523.23,390.81 L525.62,388.08 L528.02,385.34 L530.42,382.62 L532.81,379.89 L535.21,377.17 L537.61,374.45 L540.00,371.73 L542.40,369.01 L544.80,366.30 L547.19,363.58 L549.59,360.87 L551.99,358.17 L554.38,355.46 L556.78,352.75 L559.17,350.05 L561.57,347.35 L563.97,344.65 L566.36,341.95 L568.76,339.25 L571.16,336.56 L573.55,333.86 L575.95,331.17 L578.35,328.48 L580.74,325.78 L583.14,323.09 L585.54,320.40 L587.93,317.72 L590.33,315.03 L592.73,312.34 L595.12,309.65 L597.52,306.97 L599.91,304.28 L602.31,301.60 L604.71,298.91 L607.10,296.23 L609.50,293.54 L611.90,290.86 L614.29,288.18 L616.69,285.49 L619.09,282.81 L621.48,280.12 L623.88,277.44 L626.28,274.76 L628.67,272.07 L631.07,269.39 L633.47,266.70 L635.86,264.01 L638.26,261.33 L640.66,258.64 L643.05,255.95 L645.45,253.26 L647.85,250.57 L650.24,247.88 L652.64,245.19 L655.03,242.50 L657.43,239.81 L659.83,237.11 L662.22,234.42 L664.62,231.72 L667.02,229.02 L669.41,226.32 L671.81,223.62 L674.21,220.92 L676.60,218.22 L679.00,215.52 L681.40,212.82 L683.79,210.12 L686.19,207.42 L688.59,204.72 L690.98,202.02 L693.38,199.32 L695.78,196.62 L698.17,193.92 L700.57,191.22 L702.96,188.52 L705.36,185.82 L707.76,183.12 L710.15,180.41 L712.55,177.71 L714.95,175.01 L717.34,172.31 L719.74,169.60 L722.14,166.90 L724.53,164.20 L726.93,161.50 L729.33,158.79 L731.72,156.09 L734.12,153.39 L736.52,150.68 L738.91,147.98 L741.31,145.27 L743.71,142.57 L746.10,139.86 L748.50,137.16 L750.89,134.45 L753.29,131.75 L755.69,129.04 L758.08,126.34 L760.48,123.63 L762.88,120.93 L765.27,118.22 L767.67,115.52 L770.07,112.81 L772.46,110.10 L774.86,107.40 L777.26,104.69 L779.65,101.98 L782.05,99.27 L784.45,96.57 L786.84,93.86 L789.24,91.15 L791.63,88.44 L794.03,85.73 L796.43,83.03 L798.82,80.32 L801.22,77.61 L803.62,74.90 L806.01,72.19 L808.41,69.48 L810.81,66.77 L813.20,64.06 L815.60,61.35" fill="none" stroke="#3b8a77" stroke-width="3.0" stroke-dasharray="3 6.3"/>
<path d="M338.70,540.60 L341.09,540.43 L343.49,540.26 L345.89,540.09 L348.28,539.92 L350.68,539.75 L353.08,539.58 L355.47,539.42 L357.87,539.25 L360.26,539.09 L362.66,538.94 L365.06,538.78 L367.45,538.63 L369.85,538.48 L372.25,538.34 L374.64,538.20 L377.04,538.06 L379.44,537.93 L381.83,537.80 L384.23,537.68 L386.63,537.55 L389.02,537.43 L391.42,537.31 L393.82,537.19 L396.21,537.08 L398.61,536.96 L401.01,536.85 L403.40,536.74 L405.80,536.63 L408.19,536.52 L410.59,536.42 L412.99,536.31 L415.38,536.21 L417.78,536.11 L420.18,536.00 L422.57,535.90 L424.97,535.80 L427.37,535.70 L429.76,535.60 L432.16,535.51 L434.56,535.41 L436.95,535.31 L439.35,535.21 L441.75,535.11 L444.14,535.02 L446.54,534.92 L448.94,534.82 L451.33,534.73 L453.73,534.63 L456.12,534.53 L458.52,534.43 L460.92,534.33 L463.31,534.23 L465.71,534.13 L468.11,534.03 L470.50,533.93 L472.90,533.82 L475.30,533.72 L477.69,533.61 L480.09,533.51 L482.49,533.40 L484.88,533.29 L487.28,533.18 L489.68,533.08 L492.07,532.97 L494.47,532.86 L496.87,532.75 L499.26,532.65 L501.66,532.54 L504.06,532.43 L506.45,532.32 L508.85,532.21 L511.24,532.11 L513.64,532.00 L516.04,531.89 L518.43,531.78 L520.83,531.67 L523.23,531.57 L525.62,531.46 L528.02,531.35 L530.42,531.24 L532.81,531.13 L535.21,531.02 L537.61,530.92 L540.00,530.81 L542.40,530.70 L544.80,530.59 L547.19,530.48 L549.59,530.37 L551.99,530.26 L554.38,530.16 L556.78,530.05 L559.17,529.94 L561.57,529.83 L563.97,529.72 L566.36,529.61 L568.76,529.50 L571.16,529.39 L573.55,529.28 L575.95,529.17 L578.35,529.07 L580.74,528.96 L583.14,528.85 L585.54,528.74 L587.93,528.63 L590.33,528.52 L592.73,528.41 L595.12,528.30 L597.52,528.19 L599.91,528.08 L602.31,527.97 L604.71,527.86 L607.10,527.75 L609.50,527.64 L611.90,527.53 L614.29,527.42 L616.69,527.31 L619.09,527.20 L621.48,527.09 L623.88,526.98 L626.28,526.87 L628.67,526.76 L631.07,526.65 L633.47,526.54 L635.86,526.43 L638.26,526.32 L640.66,526.21 L643.05,526.10 L645.45,525.99 L647.85,525.88 L650.24,525.77 L652.64,525.66 L655.03,525.54 L657.43,525.43 L659.83,525.32 L662.22,525.21 L664.62,525.10 L667.02,524.99 L669.41,524.88 L671.81,524.77 L674.21,524.66 L676.60,524.54 L679.00,524.43 L681.40,524.32 L683.79,524.21 L686.19,524.10 L688.59,523.99 L690.98,523.87 L693.38,523.76 L695.78,523.65 L698.17,523.54 L700.57,523.43 L702.96,523.32 L705.36,523.20 L707.76,523.09 L710.15,522.98 L712.55,522.87 L714.95,522.75 L717.34,522.64 L719.74,522.53 L722.14,522.42 L724.53,522.30 L726.93,522.19 L729.33,522.08 L731.72,521.97 L734.12,521.85 L736.52,521.74 L738.91,521.63 L741.31,521.51 L743.71,521.40 L746.10,521.29 L748.50,521.17 L750.89,521.06 L753.29,520.95 L755.69,520.83 L758.08,520.72 L760.48,520.61 L762.88,520.49 L765.27,520.38 L767.67,520.27 L770.07,520.15 L772.46,520.04 L774.86,519.92 L777.26,519.81 L779.65,519.70 L782.05,519.58 L784.45,519.47 L786.84,519.35 L789.24,519.24 L791.63,519.12 L794.03,519.01 L796.43,518.89 L798.82,518.78 L801.22,518.67 L803.62,518.55 L806.01,518.44 L808.41,518.32 L810.81,518.21 L813.20,518.09 L815.60,517.98 L815.60,525.98 L813.20,526.07 L810.81,526.17 L808.41,526.26 L806.01,526.36 L803.62,526.45 L801.22,526.54 L798.82,526.64 L796.43,526.73 L794.03,526.83 L791.63,526.92 L789.24,527.02 L786.84,527.11 L784.45,527.21 L782.05,527.30 L779.65,527.39 L777.26,527.49 L774.86,527.58 L772.46,527.68 L770.07,527.77 L767.67,527.86 L765.27,527.96 L762.88,528.05 L760.48,528.15 L758.08,528.24 L755.69,528.33 L753.29,528.43 L750.89,528.52 L748.50,528.61 L746.10,528.70 L743.71,528.80 L741.31,528.89 L738.91,528.98 L736.52,529.08 L734.12,529.17 L731.72,529.26 L729.33,529.36 L726.93,529.45 L724.53,529.54 L722.14,529.63 L719.74,529.73 L717.34,529.82 L714.95,529.91 L712.55,530.00 L710.15,530.09 L707.76,530.19 L705.36,530.28 L702.96,530.37 L700.57,530.46 L698.17,530.55 L695.78,530.65 L693.38,530.74 L690.98,530.83 L688.59,530.92 L686.19,531.01 L683.79,531.10 L681.40,531.20 L679.00,531.29 L676.60,531.38 L674.21,531.47 L671.81,531.56 L669.41,531.65 L667.02,531.74 L664.62,531.83 L662.22,531.93 L659.83,532.02 L657.43,532.11 L655.03,532.20 L652.64,532.29 L650.24,532.38 L647.85,532.47 L645.45,532.56 L643.05,532.65 L640.66,532.74 L638.26,532.83 L635.86,532.92 L633.47,533.01 L631.07,533.10 L628.67,533.19 L626.28,533.28 L623.88,533.37 L621.48,533.46 L619.09,533.55 L616.69,533.64 L614.29,533.73 L611.90,533.82 L609.50,533.91 L607.10,534.00 L604.71,534.09 L602.31,534.18 L599.91,534.27 L597.52,534.36 L595.12,534.45 L592.73,534.54 L590.33,534.63 L587.93,534.72 L585.54,534.81 L583.14,534.90 L580.74,534.99 L578.35,535.08 L575.95,535.16 L573.55,535.25 L571.16,535.34 L568.76,535.43 L566.36,535.52 L563.97,535.61 L561.57,535.70 L559.17,535.79 L556.78,535.88 L554.38,535.96 L551.99,536.05 L549.59,536.14 L547.19,536.23 L544.80,536.32 L542.40,536.41 L540.00,536.50 L537.61,536.58 L535.21,536.67 L532.81,536.76 L530.42,536.85 L528.02,536.94 L525.62,537.03 L523.23,537.11 L520.83,537.20 L518.43,537.29 L516.04,537.38 L513.64,537.47 L511.24,537.55 L508.85,537.64 L506.45,537.73 L504.06,537.82 L501.66,537.90 L499.26,537.99 L496.87,538.08 L494.47,538.17 L492.07,538.26 L489.68,538.34 L487.28,538.43 L484.88,538.52 L482.49,538.61 L480.09,538.69 L477.69,538.78 L475.30,538.87 L472.90,538.95 L470.50,539.03 L468.11,539.12 L465.71,539.20 L463.31,539.28 L460.92,539.36 L458.52,539.44 L456.12,539.51 L453.73,539.59 L451.33,539.67 L448.94,539.75 L446.54,539.82 L444.14,539.90 L441.75,539.98 L439.35,540.06 L436.95,540.13 L434.56,540.21 L432.16,540.29 L429.76,540.37 L427.37,540.45 L424.97,540.53 L422.57,540.61 L420.18,540.69 L417.78,540.77 L415.38,540.85 L412.99,540.94 L410.59,541.02 L408.19,541.11 L405.80,541.19 L403.40,541.28 L401.01,541.37 L398.61,541.47 L396.21,541.56 L393.82,541.66 L391.42,541.75 L389.02,541.85 L386.63,541.95 L384.23,542.06 L381.83,542.16 L379.44,542.27 L377.04,542.38 L374.64,542.50 L372.25,542.62 L369.85,542.74 L367.45,542.87 L365.06,543.00 L362.66,543.14 L360.26,543.27 L357.87,543.41 L355.47,543.56 L353.08,543.70 L350.68,543.85 L348.28,544.00 L345.89,544.15 L343.49,544.30 L341.09,544.45 L338.70,544.60 Z" fill="#2a8f9a" opacity="0.4"/>
<path d="M338.70,542.60 L341.09,542.44 L343.49,542.28 L345.89,542.12 L348.28,541.96 L350.68,541.80 L353.08,541.64 L355.47,541.49 L357.87,541.33 L360.26,541.18 L362.66,541.04 L365.06,540.89 L367.45,540.75 L369.85,540.61 L372.25,540.48 L374.64,540.35 L377.04,540.22 L379.44,540.10 L381.83,539.98 L384.23,539.87 L386.63,539.75 L389.02,539.64 L391.42,539.53 L393.82,539.42 L396.21,539.32 L398.61,539.22 L401.01,539.11 L403.40,539.01 L405.80,538.91 L408.19,538.82 L410.59,538.72 L412.99,538.62 L415.38,538.53 L417.78,538.44 L420.18,538.35 L422.57,538.25 L424.97,538.16 L427.37,538.07 L429.76,537.99 L432.16,537.90 L434.56,537.81 L436.95,537.72 L439.35,537.63 L441.75,537.55 L444.14,537.46 L446.54,537.37 L448.94,537.29 L451.33,537.20 L453.73,537.11 L456.12,537.02 L458.52,536.93 L460.92,536.84 L463.31,536.75 L465.71,536.66 L468.11,536.57 L470.50,536.48 L472.90,536.39 L475.30,536.29 L477.69,536.20 L480.09,536.10 L482.49,536.00 L484.88,535.90 L487.28,535.81 L489.68,535.71 L492.07,535.61 L494.47,535.51 L496.87,535.42 L499.26,535.32 L501.66,535.22 L504.06,535.12 L506.45,535.03 L508.85,534.93 L511.24,534.83 L513.64,534.73 L516.04,534.63 L518.43,534.54 L520.83,534.44 L523.23,534.34 L525.62,534.24 L528.02,534.14 L530.42,534.04 L532.81,533.95 L535.21,533.85 L537.61,533.75 L540.00,533.65 L542.40,533.55 L544.80,533.45 L547.19,533.36 L549.59,533.26 L551.99,533.16 L554.38,533.06 L556.78,532.96 L559.17,532.86 L561.57,532.76 L563.97,532.66 L566.36,532.57 L568.76,532.47 L571.16,532.37 L573.55,532.27 L575.95,532.17 L578.35,532.07 L580.74,531.97 L583.14,531.87 L585.54,531.77 L587.93,531.67 L590.33,531.57 L592.73,531.47 L595.12,531.37 L597.52,531.28 L599.91,531.18 L602.31,531.08 L604.71,530.98 L607.10,530.88 L609.50,530.78 L611.90,530.68 L614.29,530.58 L616.69,530.48 L619.09,530.38 L621.48,530.28 L623.88,530.18 L626.28,530.08 L628.67,529.98 L631.07,529.88 L633.47,529.78 L635.86,529.68 L638.26,529.58 L640.66,529.48 L643.05,529.37 L645.45,529.27 L647.85,529.17 L650.24,529.07 L652.64,528.97 L655.03,528.87 L657.43,528.77 L659.83,528.67 L662.22,528.57 L664.62,528.47 L667.02,528.37 L669.41,528.27 L671.81,528.16 L674.21,528.06 L676.60,527.96 L679.00,527.86 L681.40,527.76 L683.79,527.66 L686.19,527.56 L688.59,527.45 L690.98,527.35 L693.38,527.25 L695.78,527.15 L698.17,527.05 L700.57,526.94 L702.96,526.84 L705.36,526.74 L707.76,526.64 L710.15,526.54 L712.55,526.43 L714.95,526.33 L717.34,526.23 L719.74,526.13 L722.14,526.02 L724.53,525.92 L726.93,525.82 L729.33,525.72 L731.72,525.61 L734.12,525.51 L736.52,525.41 L738.91,525.31 L741.31,525.20 L743.71,525.10 L746.10,525.00 L748.50,524.89 L750.89,524.79 L753.29,524.69 L755.69,524.58 L758.08,524.48 L760.48,524.38 L762.88,524.27 L765.27,524.17 L767.67,524.07 L770.07,523.96 L772.46,523.86 L774.86,523.75 L777.26,523.65 L779.65,523.55 L782.05,523.44 L784.45,523.34 L786.84,523.23 L789.24,523.13 L791.63,523.02 L794.03,522.92 L796.43,522.81 L798.82,522.71 L801.22,522.61 L803.62,522.50 L806.01,522.40 L808.41,522.29 L810.81,522.19 L813.20,522.08 L815.60,521.98" fill="none" stroke="#2d7c74" stroke-width="3.6" stroke-dasharray="9.5 31 3 31.1"/>
<path d="M338.70,478.60 L341.09,478.64 L343.49,478.77 L345.89,479.05 L348.28,479.91 L350.68,481.21 L353.08,483.38 L355.47,486.04 L357.87,488.62 L360.26,490.89 L362.66,493.13 L365.06,495.35 L367.45,497.57 L369.85,499.80 L372.25,502.05 L374.64,504.31 L377.04,506.55 L379.44,508.74 L381.83,510.88 L384.23,513.01 L386.63,515.09 L389.02,517.08 L391.42,518.93 L393.82,520.64 L396.21,522.29 L398.61,523.83 L401.01,525.23 L403.40,526.45 L405.80,527.55 L408.19,528.56 L410.59,529.46 L412.99,530.26 L415.38,530.96 L417.78,531.61 L420.18,532.24 L422.57,532.83 L424.97,533.38 L427.37,533.89 L429.76,534.37 L432.16,534.81 L434.56,535.21 L436.95,535.57 L439.35,535.90 L441.75,536.21 L444.14,536.51 L446.54,536.79 L448.94,537.05 L451.33,537.30 L453.73,537.54 L456.12,537.75 L458.52,537.95 L460.92,538.13 L463.31,538.29 L465.71,538.44 L468.11,538.58 L470.50,538.71 L472.90,538.84 L475.30,538.96 L477.69,539.08 L480.09,539.19 L482.49,539.30 L484.88,539.40 L487.28,539.49 L489.68,539.57 L492.07,539.65 L494.47,539.72 L496.87,539.78 L499.26,539.84 L501.66,539.88 L504.06,539.93 L506.45,539.97 L508.85,540.01 L511.24,540.06 L513.64,540.10 L516.04,540.14 L518.43,540.17 L520.83,540.21 L523.23,540.25 L525.62,540.28 L528.02,540.32 L530.42,540.35 L532.81,540.38 L535.21,540.41 L537.61,540.44 L540.00,540.46 L542.40,540.49 L544.80,540.52 L547.19,540.54 L549.59,540.56 L551.99,540.58 L554.38,540.60 L556.78,540.62 L559.17,540.64 L561.57,540.66 L563.97,540.67 L566.36,540.68 L568.76,540.70 L571.16,540.71 L573.55,540.72 L575.95,540.73 L578.35,540.73 L580.74,540.74 L583.14,540.75 L585.54,540.75 L587.93,540.76 L590.33,540.77 L592.73,540.78 L595.12,540.78 L597.52,540.79 L599.91,540.80 L602.31,540.80 L604.71,540.81 L607.10,540.82 L609.50,540.82 L611.90,540.83 L614.29,540.84 L616.69,540.84 L619.09,540.85 L621.48,540.86 L623.88,540.86 L626.28,540.87 L628.67,540.87 L631.07,540.88 L633.47,540.88 L635.86,540.89 L638.26,540.90 L640.66,540.90 L643.05,540.91 L645.45,540.91 L647.85,540.92 L650.24,540.92 L652.64,540.93 L655.03,540.93 L657.43,540.94 L659.83,540.94 L662.22,540.95 L664.62,540.95 L667.02,540.96 L669.41,540.96 L671.81,540.97 L674.21,540.97 L676.60,540.98 L679.00,540.98 L681.40,540.98 L683.79,540.99 L686.19,540.99 L688.59,541.00 L690.98,541.00 L693.38,541.00 L695.78,541.01 L698.17,541.01 L700.57,541.01 L702.96,541.02 L705.36,541.02 L707.76,541.03 L710.15,541.03 L712.55,541.03 L714.95,541.03 L717.34,541.04 L719.74,541.04 L722.14,541.04 L724.53,541.05 L726.93,541.05 L729.33,541.05 L731.72,541.05 L734.12,541.06 L736.52,541.06 L738.91,541.06 L741.31,541.06 L743.71,541.07 L746.10,541.07 L748.50,541.07 L750.89,541.07 L753.29,541.08 L755.69,541.08 L758.08,541.08 L760.48,541.08 L762.88,541.08 L765.27,541.08 L767.67,541.09 L770.07,541.09 L772.46,541.09 L774.86,541.09 L777.26,541.09 L779.65,541.09 L782.05,541.09 L784.45,541.09 L786.84,541.09 L789.24,541.10 L791.63,541.10 L794.03,541.10 L796.43,541.10 L798.82,541.10 L801.22,541.10 L803.62,541.10 L806.01,541.10 L808.41,541.10 L810.81,541.10 L813.20,541.10 L815.60,541.10 L815.60,544.10 L813.20,544.10 L810.81,544.10 L808.41,544.10 L806.01,544.10 L803.62,544.10 L801.22,544.10 L798.82,544.10 L796.43,544.10 L794.03,544.10 L791.63,544.10 L789.24,544.10 L786.84,544.09 L784.45,544.09 L782.05,544.09 L779.65,544.09 L777.26,544.09 L774.86,544.09 L772.46,544.09 L770.07,544.09 L767.67,544.09 L765.27,544.08 L762.88,544.08 L760.48,544.08 L758.08,544.08 L755.69,544.08 L753.29,544.08 L750.89,544.07 L748.50,544.07 L746.10,544.07 L743.71,544.07 L741.31,544.06 L738.91,544.06 L736.52,544.06 L734.12,544.06 L731.72,544.05 L729.33,544.05 L726.93,544.05 L724.53,544.05 L722.14,544.04 L719.74,544.04 L717.34,544.04 L714.95,544.03 L712.55,544.03 L710.15,544.03 L707.76,544.03 L705.36,544.02 L702.96,544.02 L700.57,544.01 L698.17,544.01 L695.78,544.01 L693.38,544.00 L690.98,544.00 L688.59,544.00 L686.19,543.99 L683.79,543.99 L681.40,543.98 L679.00,543.98 L676.60,543.98 L674.21,543.97 L671.81,543.97 L669.41,543.96 L667.02,543.96 L664.62,543.95 L662.22,543.95 L659.83,543.94 L657.43,543.94 L655.03,543.93 L652.64,543.93 L650.24,543.92 L647.85,543.92 L645.45,543.91 L643.05,543.91 L640.66,543.90 L638.26,543.90 L635.86,543.89 L633.47,543.88 L631.07,543.88 L628.67,543.87 L626.28,543.87 L623.88,543.86 L621.48,543.86 L619.09,543.85 L616.69,543.84 L614.29,543.84 L611.90,543.83 L609.50,543.82 L607.10,543.82 L604.71,543.81 L602.31,543.80 L599.91,543.80 L597.52,543.79 L595.12,543.78 L592.73,543.78 L590.33,543.77 L587.93,543.76 L585.54,543.75 L583.14,543.75 L580.74,543.74 L578.35,543.73 L575.95,543.73 L573.55,543.72 L571.16,543.71 L568.76,543.70 L566.36,543.68 L563.97,543.67 L561.57,543.66 L559.17,543.64 L556.78,543.62 L554.38,543.60 L551.99,543.58 L549.59,543.56 L547.19,543.54 L544.80,543.52 L542.40,543.49 L540.00,543.46 L537.61,543.44 L535.21,543.41 L532.81,543.38 L530.42,543.35 L528.02,543.32 L525.62,543.28 L523.23,543.25 L520.83,543.21 L518.43,543.17 L516.04,543.14 L513.64,543.10 L511.24,543.06 L508.85,543.01 L506.45,542.97 L504.06,542.93 L501.66,542.88 L499.26,542.84 L496.87,542.78 L494.47,542.72 L492.07,542.65 L489.68,542.57 L487.28,542.49 L484.88,542.40 L482.49,542.30 L480.09,542.19 L477.69,542.08 L475.30,541.96 L472.90,541.84 L470.50,541.71 L468.11,541.58 L465.71,541.44 L463.31,541.29 L460.92,541.13 L458.52,540.95 L456.12,540.75 L453.73,540.54 L451.33,540.30 L448.94,540.05 L446.54,539.79 L444.14,539.51 L441.75,539.21 L439.35,538.90 L436.95,538.57 L434.56,538.21 L432.16,537.81 L429.76,537.37 L427.37,536.89 L424.97,536.38 L422.57,535.83 L420.18,535.24 L417.78,534.61 L415.38,533.96 L412.99,533.26 L410.59,532.46 L408.19,531.56 L405.80,530.55 L403.40,529.45 L401.01,528.23 L398.61,526.83 L396.21,525.29 L393.82,523.64 L391.42,521.93 L389.02,520.08 L386.63,518.09 L384.23,516.01 L381.83,513.88 L379.44,511.74 L377.04,509.55 L374.64,507.31 L372.25,505.05 L369.85,502.80 L367.45,500.57 L365.06,498.35 L362.66,496.13 L360.26,493.89 L357.87,491.62 L355.47,489.04 L353.08,486.38 L350.68,484.21 L348.28,482.91 L345.89,482.05 L343.49,481.77 L341.09,481.64 L338.70,481.60 Z" fill="#d04a86" opacity="0.15"/>
<path d="M338.70,480.10 L341.09,480.14 L343.49,480.27 L345.89,480.55 L348.28,481.41 L350.68,482.71 L353.08,484.88 L355.47,487.54 L357.87,490.12 L360.26,492.39 L362.66,494.63 L365.06,496.85 L367.45,499.07 L369.85,501.30 L372.25,503.55 L374.64,505.81 L377.04,508.05 L379.44,510.24 L381.83,512.38 L384.23,514.51 L386.63,516.59 L389.02,518.58 L391.42,520.43 L393.82,522.14 L396.21,523.79 L398.61,525.33 L401.01,526.73 L403.40,527.95 L405.80,529.05 L408.19,530.06 L410.59,530.96 L412.99,531.76 L415.38,532.46 L417.78,533.11 L420.18,533.74 L422.57,534.33 L424.97,534.88 L427.37,535.39 L429.76,535.87 L432.16,536.31 L434.56,536.71 L436.95,537.07 L439.35,537.40 L441.75,537.71 L444.14,538.01 L446.54,538.29 L448.94,538.55 L451.33,538.80 L453.73,539.04 L456.12,539.25 L458.52,539.45 L460.92,539.63 L463.31,539.79 L465.71,539.94 L468.11,540.08 L470.50,540.21 L472.90,540.34 L475.30,540.46 L477.69,540.58 L480.09,540.69 L482.49,540.80 L484.88,540.90 L487.28,540.99 L489.68,541.07 L492.07,541.15 L494.47,541.22 L496.87,541.28 L499.26,541.34 L501.66,541.38 L504.06,541.43 L506.45,541.47 L508.85,541.51 L511.24,541.56 L513.64,541.60 L516.04,541.64 L518.43,541.67 L520.83,541.71 L523.23,541.75 L525.62,541.78 L528.02,541.82 L530.42,541.85 L532.81,541.88 L535.21,541.91 L537.61,541.94 L540.00,541.96 L542.40,541.99 L544.80,542.02 L547.19,542.04 L549.59,542.06 L551.99,542.08 L554.38,542.10 L556.78,542.12 L559.17,542.14 L561.57,542.16 L563.97,542.17 L566.36,542.18 L568.76,542.20 L571.16,542.21 L573.55,542.22 L575.95,542.23 L578.35,542.23 L580.74,542.24 L583.14,542.25 L585.54,542.25 L587.93,542.26 L590.33,542.27 L592.73,542.28 L595.12,542.28 L597.52,542.29 L599.91,542.30 L602.31,542.30 L604.71,542.31 L607.10,542.32 L609.50,542.32 L611.90,542.33 L614.29,542.34 L616.69,542.34 L619.09,542.35 L621.48,542.36 L623.88,542.36 L626.28,542.37 L628.67,542.37 L631.07,542.38 L633.47,542.38 L635.86,542.39 L638.26,542.40 L640.66,542.40 L643.05,542.41 L645.45,542.41 L647.85,542.42 L650.24,542.42 L652.64,542.43 L655.03,542.43 L657.43,542.44 L659.83,542.44 L662.22,542.45 L664.62,542.45 L667.02,542.46 L669.41,542.46 L671.81,542.47 L674.21,542.47 L676.60,542.48 L679.00,542.48 L681.40,542.48 L683.79,542.49 L686.19,542.49 L688.59,542.50 L690.98,542.50 L693.38,542.50 L695.78,542.51 L698.17,542.51 L700.57,542.51 L702.96,542.52 L705.36,542.52 L707.76,542.53 L710.15,542.53 L712.55,542.53 L714.95,542.53 L717.34,542.54 L719.74,542.54 L722.14,542.54 L724.53,542.55 L726.93,542.55 L729.33,542.55 L731.72,542.55 L734.12,542.56 L736.52,542.56 L738.91,542.56 L741.31,542.56 L743.71,542.57 L746.10,542.57 L748.50,542.57 L750.89,542.57 L753.29,542.58 L755.69,542.58 L758.08,542.58 L760.48,542.58 L762.88,542.58 L765.27,542.58 L767.67,542.59 L770.07,542.59 L772.46,542.59 L774.86,542.59 L777.26,542.59 L779.65,542.59 L782.05,542.59 L784.45,542.59 L786.84,542.59 L789.24,542.60 L791.63,542.60 L794.03,542.60 L796.43,542.60 L798.82,542.60 L801.22,542.60 L803.62,542.60 L806.01,542.60 L808.41,542.60 L810.81,542.60 L813.20,542.60 L815.60,542.60" fill="none" stroke="#c0447a" stroke-width="3.0"/>
<path d="M338.70,480.10 L341.09,480.14 L343.49,480.27 L345.89,480.55 L348.28,481.41 L350.68,482.72 L353.08,484.99 L355.47,487.79 L357.87,490.48 L360.26,492.84 L362.66,495.14 L365.06,497.43 L367.45,499.73 L369.85,502.07 L372.25,504.46 L374.64,506.87 L377.04,509.29 L379.44,511.66 L381.83,514.01 L384.23,516.39 L386.63,518.75 L389.02,520.99 L391.42,523.03 L393.82,524.90 L396.21,526.67 L398.61,528.32 L401.01,529.80 L403.40,531.09 L405.80,532.26 L408.19,533.33 L410.59,534.29 L412.99,535.12 L415.38,535.86 L417.78,536.58 L420.18,537.28 L422.57,537.95 L424.97,538.57 L427.37,539.14 L429.76,539.65 L432.16,540.09 L434.56,540.44 L436.95,540.70 L439.35,540.90 L441.75,541.08 L444.14,541.25 L446.54,541.40 L448.94,541.53 L451.33,541.66 L453.73,541.77 L456.12,541.86 L458.52,541.95 L460.92,542.02 L463.31,542.08 L465.71,542.13 L468.11,542.18 L470.50,542.23 L472.90,542.27 L475.30,542.31 L477.69,542.36 L480.09,542.39 L482.49,542.43 L484.88,542.46 L487.28,542.49 L489.68,542.52 L492.07,542.54 L494.47,542.56 L496.87,542.58 L499.26,542.59 L501.66,542.60 L504.06,542.60 L506.45,542.60 L508.85,542.60 L511.24,542.60 L513.64,542.60 L516.04,542.60 L518.43,542.60 L520.83,542.60 L523.23,542.60 L525.62,542.60 L528.02,542.60 L530.42,542.60 L532.81,542.60 L535.21,542.60 L537.61,542.60 L540.00,542.60 L542.40,542.60 L544.80,542.60 L547.19,542.60 L549.59,542.60 L551.99,542.60 L554.38,542.60 L556.78,542.60 L559.17,542.60 L561.57,542.60 L563.97,542.60 L566.36,542.60 L568.76,542.60 L571.16,542.60 L573.55,542.60 L575.95,542.60 L578.35,542.60 L580.74,542.60 L583.14,542.60 L585.54,542.60 L587.93,542.60 L590.33,542.60 L592.73,542.60 L595.12,542.60 L597.52,542.60 L599.91,542.60 L602.31,542.60 L604.71,542.60 L607.10,542.60 L609.50,542.60 L611.90,542.60 L614.29,542.60 L616.69,542.60 L619.09,542.60 L621.48,542.60 L623.88,542.60 L626.28,542.60 L628.67,542.60 L631.07,542.60 L633.47,542.60 L635.86,542.60 L638.26,542.60 L640.66,542.60 L643.05,542.60 L645.45,542.60 L647.85,542.60 L650.24,542.60 L652.64,542.60 L655.03,542.60 L657.43,542.60 L659.83,542.60 L662.22,542.60 L664.62,542.60 L667.02,542.60 L669.41,542.60 L671.81,542.60 L674.21,542.60 L676.60,542.60 L679.00,542.60 L681.40,542.60 L683.79,542.60 L686.19,542.60 L688.59,542.60 L690.98,542.60 L693.38,542.60 L695.78,542.60 L698.17,542.60 L700.57,542.60 L702.96,542.60 L705.36,542.60 L707.76,542.60 L710.15,542.60 L712.55,542.60 L714.95,542.60 L717.34,542.60 L719.74,542.60 L722.14,542.60 L724.53,542.60 L726.93,542.60 L729.33,542.60 L731.72,542.60 L734.12,542.60 L736.52,542.60 L738.91,542.60 L741.31,542.60 L743.71,542.60 L746.10,542.60 L748.50,542.60 L750.89,542.60 L753.29,542.60 L755.69,542.60 L758.08,542.60 L760.48,542.60 L762.88,542.60 L765.27,542.60 L767.67,542.60 L770.07,542.60 L772.46,542.60 L774.86,542.60 L777.26,542.60 L779.65,542.60 L782.05,542.60 L784.45,542.60 L786.84,542.60 L789.24,542.60 L791.63,542.60 L794.03,542.60 L796.43,542.60 L798.82,542.60 L801.22,542.60 L803.62,542.60 L806.01,542.60 L808.41,542.60 L810.81,542.60 L813.20,542.60 L815.60,542.60" fill="none" stroke="#c0447a" stroke-width="3.0" stroke-dasharray="6.5 18.2"/>
<path d="M338.70,480.10 L341.09,480.14 L343.49,480.27 L345.89,480.55 L348.28,481.41 L350.68,482.72 L353.08,484.99 L355.47,487.79 L357.87,490.48 L360.26,492.84 L362.66,495.14 L365.06,497.43 L367.45,499.73 L369.85,502.07 L372.25,504.46 L374.64,506.87 L377.04,509.29 L379.44,511.66 L381.83,514.01 L384.23,516.39 L386.63,518.75 L389.02,520.99 L391.42,523.03 L393.82,524.90 L396.21,526.67 L398.61,528.32 L401.01,529.80 L403.40,531.09 L405.80,532.26 L408.19,533.33 L410.59,534.29 L412.99,535.12 L415.38,535.86 L417.78,536.58 L420.18,537.28 L422.57,537.95 L424.97,538.57 L427.37,539.14 L429.76,539.65 L432.16,540.09 L434.56,540.44 L436.95,540.70 L439.35,540.90 L441.75,541.08 L444.14,541.25 L446.54,541.40 L448.94,541.53 L451.33,541.66 L453.73,541.77 L456.12,541.86 L458.52,541.95 L460.92,542.02 L463.31,542.08 L465.71,542.13 L468.11,542.18 L470.50,542.23 L472.90,542.27 L475.30,542.31 L477.69,542.36 L480.09,542.39 L482.49,542.43 L484.88,542.46 L487.28,542.49 L489.68,542.52 L492.07,542.54 L494.47,542.56 L496.87,542.58 L499.26,542.59 L501.66,542.60 L504.06,542.60 L506.45,542.60 L508.85,542.60 L511.24,542.60 L513.64,542.60 L516.04,542.60 L518.43,542.60 L520.83,542.60 L523.23,542.60 L525.62,542.60 L528.02,542.60 L530.42,542.60 L532.81,542.60 L535.21,542.60 L537.61,542.60 L540.00,542.60 L542.40,542.60 L544.80,542.60 L547.19,542.60 L549.59,542.60 L551.99,542.60 L554.38,542.60 L556.78,542.60 L559.17,542.60 L561.57,542.60 L563.97,542.60 L566.36,542.60 L568.76,542.60 L571.16,542.60 L573.55,542.60 L575.95,542.60 L578.35,542.60 L580.74,542.60 L583.14,542.60 L585.54,542.60 L587.93,542.60 L590.33,542.60 L592.73,542.60 L595.12,542.60 L597.52,542.60 L599.91,542.60 L602.31,542.60 L604.71,542.60 L607.10,542.60 L609.50,542.60 L611.90,542.60 L614.29,542.60 L616.69,542.60 L619.09,542.60 L621.48,542.60 L623.88,542.60 L626.28,542.60 L628.67,542.60 L631.07,542.60 L633.47,542.60 L635.86,542.60 L638.26,542.60 L640.66,542.60 L643.05,542.60 L645.45,542.60 L647.85,542.60 L650.24,542.60 L652.64,542.60 L655.03,542.60 L657.43,542.60 L659.83,542.60 L662.22,542.60 L664.62,542.60 L667.02,542.60 L669.41,542.60 L671.81,542.60 L674.21,542.60 L676.60,542.60 L679.00,542.60 L681.40,542.60 L683.79,542.60 L686.19,542.60 L688.59,542.60 L690.98,542.60 L693.38,542.60 L695.78,542.60 L698.17,542.60 L700.57,542.60 L702.96,542.60 L705.36,542.60 L707.76,542.60 L710.15,542.60 L712.55,542.60 L714.95,542.60 L717.34,542.60 L719.74,542.60 L722.14,542.60 L724.53,542.60 L726.93,542.60 L729.33,542.60 L731.72,542.60 L734.12,542.60 L736.52,542.60 L738.91,542.60 L741.31,542.60 L743.71,542.60 L746.10,542.60 L748.50,542.60 L750.89,542.60 L753.29,542.60 L755.69,542.60 L758.08,542.60 L760.48,542.60 L762.88,542.60 L765.27,542.60 L767.67,542.60 L770.07,542.60 L772.46,542.60 L774.86,542.60 L777.26,542.60 L779.65,542.60 L782.05,542.60 L784.45,542.60 L786.84,542.60 L789.24,542.60 L791.63,542.60 L794.03,542.60 L796.43,542.60 L798.82,542.60 L801.22,542.60 L803.62,542.60 L806.01,542.60 L808.41,542.60 L810.81,542.60 L813.20,542.60 L815.60,542.60" fill="none" stroke="#c0447a" stroke-width="3.0" stroke-dasharray="3 6.3"/>
<path d="M338.70,477.35 L341.09,477.46 L343.49,477.57 L345.89,477.68 L348.28,477.79 L350.68,477.90 L353.08,478.01 L355.47,478.11 L357.87,478.22 L360.26,478.33 L362.66,478.44 L365.06,478.55 L367.45,478.66 L369.85,478.77 L372.25,478.87 L374.64,478.98 L377.04,479.09 L379.44,479.20 L381.83,479.30 L384.23,479.41 L386.63,479.52 L389.02,479.62 L391.42,479.73 L393.82,479.84 L396.21,479.94 L398.61,480.05 L401.01,480.15 L403.40,480.26 L405.80,480.36 L408.19,480.47 L410.59,480.57 L412.99,480.67 L415.38,480.78 L417.78,480.88 L420.18,480.98 L422.57,481.09 L424.97,481.19 L427.37,481.29 L429.76,481.39 L432.16,481.49 L434.56,481.59 L436.95,481.69 L439.35,481.79 L441.75,481.89 L444.14,481.99 L446.54,482.09 L448.94,482.19 L451.33,482.29 L453.73,482.39 L456.12,482.48 L458.52,482.58 L460.92,482.68 L463.31,482.77 L465.71,482.87 L468.11,482.97 L470.50,483.06 L472.90,483.16 L475.30,483.25 L477.69,483.35 L480.09,483.44 L482.49,483.54 L484.88,483.63 L487.28,483.73 L489.68,483.82 L492.07,483.92 L494.47,484.01 L496.87,484.11 L499.26,484.20 L501.66,484.29 L504.06,484.39 L506.45,484.48 L508.85,484.57 L511.24,484.67 L513.64,484.76 L516.04,484.85 L518.43,484.94 L520.83,485.04 L523.23,485.13 L525.62,485.22 L528.02,485.31 L530.42,485.41 L532.81,485.50 L535.21,485.59 L537.61,485.68 L540.00,485.77 L542.40,485.86 L544.80,485.95 L547.19,486.04 L549.59,486.13 L551.99,486.22 L554.38,486.32 L556.78,486.41 L559.17,486.50 L561.57,486.59 L563.97,486.67 L566.36,486.76 L568.76,486.85 L571.16,486.94 L573.55,487.03 L575.95,487.12 L578.35,487.21 L580.74,487.30 L583.14,487.39 L585.54,487.48 L587.93,487.56 L590.33,487.65 L592.73,487.74 L595.12,487.83 L597.52,487.92 L599.91,488.00 L602.31,488.09 L604.71,488.18 L607.10,488.27 L609.50,488.35 L611.90,488.44 L614.29,488.53 L616.69,488.61 L619.09,488.70 L621.48,488.79 L623.88,488.87 L626.28,488.96 L628.67,489.05 L631.07,489.13 L633.47,489.22 L635.86,489.30 L638.26,489.39 L640.66,489.47 L643.05,489.56 L645.45,489.64 L647.85,489.73 L650.24,489.81 L652.64,489.90 L655.03,489.98 L657.43,490.07 L659.83,490.15 L662.22,490.24 L664.62,490.32 L667.02,490.41 L669.41,490.49 L671.81,490.57 L674.21,490.66 L676.60,490.74 L679.00,490.83 L681.40,490.91 L683.79,490.99 L686.19,491.08 L688.59,491.16 L690.98,491.24 L693.38,491.33 L695.78,491.41 L698.17,491.49 L700.57,491.57 L702.96,491.66 L705.36,491.74 L707.76,491.82 L710.15,491.90 L712.55,491.99 L714.95,492.07 L717.34,492.15 L719.74,492.23 L722.14,492.31 L724.53,492.40 L726.93,492.48 L729.33,492.56 L731.72,492.64 L734.12,492.72 L736.52,492.80 L738.91,492.89 L741.31,492.97 L743.71,493.05 L746.10,493.13 L748.50,493.21 L750.89,493.29 L753.29,493.37 L755.69,493.45 L758.08,493.52 L760.48,493.60 L762.88,493.68 L765.27,493.76 L767.67,493.84 L770.07,493.91 L772.46,493.99 L774.86,494.07 L777.26,494.14 L779.65,494.22 L782.05,494.30 L784.45,494.37 L786.84,494.45 L789.24,494.52 L791.63,494.60 L794.03,494.68 L796.43,494.75 L798.82,494.83 L801.22,494.90 L803.62,494.98 L806.01,495.05 L808.41,495.13 L810.81,495.20 L813.20,495.28 L815.60,495.35 L815.60,504.85 L813.20,504.76 L810.81,504.66 L808.41,504.57 L806.01,504.47 L803.62,504.38 L801.22,504.28 L798.82,504.19 L796.43,504.09 L794.03,503.99 L791.63,503.90 L789.24,503.80 L786.84,503.71 L784.45,503.61 L782.05,503.52 L779.65,503.42 L777.26,503.32 L774.86,503.23 L772.46,503.13 L770.07,503.03 L767.67,502.93 L765.27,502.84 L762.88,502.74 L760.48,502.64 L758.08,502.54 L755.69,502.44 L753.29,502.34 L750.89,502.24 L748.50,502.14 L746.10,502.04 L743.71,501.94 L741.31,501.84 L738.91,501.74 L736.52,501.64 L734.12,501.54 L731.72,501.44 L729.33,501.34 L726.93,501.23 L724.53,501.13 L722.14,501.03 L719.74,500.93 L717.34,500.83 L714.95,500.72 L712.55,500.62 L710.15,500.52 L707.76,500.42 L705.36,500.31 L702.96,500.21 L700.57,500.11 L698.17,500.01 L695.78,499.90 L693.38,499.80 L690.98,499.70 L688.59,499.59 L686.19,499.49 L683.79,499.39 L681.40,499.28 L679.00,499.18 L676.60,499.08 L674.21,498.97 L671.81,498.87 L669.41,498.76 L667.02,498.66 L664.62,498.56 L662.22,498.45 L659.83,498.35 L657.43,498.24 L655.03,498.14 L652.64,498.03 L650.24,497.93 L647.85,497.82 L645.45,497.72 L643.05,497.61 L640.66,497.51 L638.26,497.40 L635.86,497.30 L633.47,497.19 L631.07,497.08 L628.67,496.98 L626.28,496.87 L623.88,496.76 L621.48,496.66 L619.09,496.55 L616.69,496.45 L614.29,496.34 L611.90,496.23 L609.50,496.12 L607.10,496.02 L604.71,495.91 L602.31,495.80 L599.91,495.69 L597.52,495.59 L595.12,495.48 L592.73,495.37 L590.33,495.26 L587.93,495.15 L585.54,495.05 L583.14,494.94 L580.74,494.83 L578.35,494.72 L575.95,494.61 L573.55,494.50 L571.16,494.39 L568.76,494.28 L566.36,494.17 L563.97,494.06 L561.57,493.95 L559.17,493.84 L556.78,493.73 L554.38,493.62 L551.99,493.51 L549.59,493.40 L547.19,493.29 L544.80,493.18 L542.40,493.07 L540.00,492.96 L537.61,492.85 L535.21,492.74 L532.81,492.63 L530.42,492.51 L528.02,492.40 L525.62,492.29 L523.23,492.18 L520.83,492.06 L518.43,491.95 L516.04,491.84 L513.64,491.73 L511.24,491.61 L508.85,491.50 L506.45,491.39 L504.06,491.27 L501.66,491.16 L499.26,491.05 L496.87,490.93 L494.47,490.82 L492.07,490.70 L489.68,490.59 L487.28,490.47 L484.88,490.36 L482.49,490.24 L480.09,490.13 L477.69,490.01 L475.30,489.90 L472.90,489.78 L470.50,489.67 L468.11,489.55 L465.71,489.43 L463.31,489.32 L460.92,489.20 L458.52,489.08 L456.12,488.97 L453.73,488.85 L451.33,488.73 L448.94,488.61 L446.54,488.50 L444.14,488.38 L441.75,488.26 L439.35,488.14 L436.95,488.02 L434.56,487.90 L432.16,487.78 L429.76,487.66 L427.37,487.53 L424.97,487.41 L422.57,487.29 L420.18,487.17 L417.78,487.04 L415.38,486.92 L412.99,486.80 L410.59,486.67 L408.19,486.55 L405.80,486.42 L403.40,486.30 L401.01,486.17 L398.61,486.05 L396.21,485.92 L393.82,485.80 L391.42,485.67 L389.02,485.55 L386.63,485.42 L384.23,485.29 L381.83,485.16 L379.44,485.04 L377.04,484.91 L374.64,484.78 L372.25,484.65 L369.85,484.53 L367.45,484.40 L365.06,484.27 L362.66,484.14 L360.26,484.01 L357.87,483.88 L355.47,483.76 L353.08,483.63 L350.68,483.50 L348.28,483.37 L345.89,483.24 L343.49,483.11 L341.09,482.98 L338.70,482.85 Z" fill="#d04a86" opacity="0.25"/>
<path d="M338.70,480.10 L341.09,480.22 L343.49,480.34 L345.89,480.46 L348.28,480.58 L350.68,480.70 L353.08,480.82 L355.47,480.94 L357.87,481.05 L360.26,481.17 L362.66,481.29 L365.06,481.41 L367.45,481.53 L369.85,481.65 L372.25,481.76 L374.64,481.88 L377.04,482.00 L379.44,482.12 L381.83,482.23 L384.23,482.35 L386.63,482.47 L389.02,482.58 L391.42,482.70 L393.82,482.82 L396.21,482.93 L398.61,483.05 L401.01,483.16 L403.40,483.28 L405.80,483.39 L408.19,483.51 L410.59,483.62 L412.99,483.74 L415.38,483.85 L417.78,483.96 L420.18,484.07 L422.57,484.19 L424.97,484.30 L427.37,484.41 L429.76,484.52 L432.16,484.63 L434.56,484.75 L436.95,484.86 L439.35,484.97 L441.75,485.08 L444.14,485.18 L446.54,485.29 L448.94,485.40 L451.33,485.51 L453.73,485.62 L456.12,485.73 L458.52,485.83 L460.92,485.94 L463.31,486.05 L465.71,486.15 L468.11,486.26 L470.50,486.36 L472.90,486.47 L475.30,486.58 L477.69,486.68 L480.09,486.79 L482.49,486.89 L484.88,487.00 L487.28,487.10 L489.68,487.21 L492.07,487.31 L494.47,487.41 L496.87,487.52 L499.26,487.62 L501.66,487.73 L504.06,487.83 L506.45,487.93 L508.85,488.04 L511.24,488.14 L513.64,488.24 L516.04,488.35 L518.43,488.45 L520.83,488.55 L523.23,488.65 L525.62,488.76 L528.02,488.86 L530.42,488.96 L532.81,489.06 L535.21,489.16 L537.61,489.26 L540.00,489.37 L542.40,489.47 L544.80,489.57 L547.19,489.67 L549.59,489.77 L551.99,489.87 L554.38,489.97 L556.78,490.07 L559.17,490.17 L561.57,490.27 L563.97,490.37 L566.36,490.47 L568.76,490.57 L571.16,490.67 L573.55,490.77 L575.95,490.87 L578.35,490.97 L580.74,491.06 L583.14,491.16 L585.54,491.26 L587.93,491.36 L590.33,491.46 L592.73,491.56 L595.12,491.65 L597.52,491.75 L599.91,491.85 L602.31,491.95 L604.71,492.04 L607.10,492.14 L609.50,492.24 L611.90,492.34 L614.29,492.43 L616.69,492.53 L619.09,492.63 L621.48,492.72 L623.88,492.82 L626.28,492.92 L628.67,493.01 L631.07,493.11 L633.47,493.20 L635.86,493.30 L638.26,493.39 L640.66,493.49 L643.05,493.59 L645.45,493.68 L647.85,493.78 L650.24,493.87 L652.64,493.97 L655.03,494.06 L657.43,494.16 L659.83,494.25 L662.22,494.34 L664.62,494.44 L667.02,494.53 L669.41,494.63 L671.81,494.72 L674.21,494.82 L676.60,494.91 L679.00,495.00 L681.40,495.10 L683.79,495.19 L686.19,495.28 L688.59,495.38 L690.98,495.47 L693.38,495.56 L695.78,495.66 L698.17,495.75 L700.57,495.84 L702.96,495.93 L705.36,496.03 L707.76,496.12 L710.15,496.21 L712.55,496.30 L714.95,496.40 L717.34,496.49 L719.74,496.58 L722.14,496.67 L724.53,496.76 L726.93,496.86 L729.33,496.95 L731.72,497.04 L734.12,497.13 L736.52,497.22 L738.91,497.31 L741.31,497.40 L743.71,497.50 L746.10,497.59 L748.50,497.68 L750.89,497.77 L753.29,497.86 L755.69,497.94 L758.08,498.03 L760.48,498.12 L762.88,498.21 L765.27,498.30 L767.67,498.39 L770.07,498.47 L772.46,498.56 L774.86,498.65 L777.26,498.73 L779.65,498.82 L782.05,498.91 L784.45,498.99 L786.84,499.08 L789.24,499.16 L791.63,499.25 L794.03,499.34 L796.43,499.42 L798.82,499.51 L801.22,499.59 L803.62,499.68 L806.01,499.76 L808.41,499.85 L810.81,499.93 L813.20,500.02 L815.60,500.10" fill="none" stroke="#b9416f" stroke-width="3.6" stroke-dasharray="9.5 31 3 31.1"/>
</g>
<rect x="326.5" y="43.3" width="272.8" height="304.5" rx="4" fill="#ffffff" fill-opacity="0.8" stroke="#d3d3d3" stroke-width="1.7"/>
<text x="354.5" y="68.2" font-size="20.3" textLength="59" lengthAdjust="spacingAndGlyphs">Entity</text>
<text x="354.0" y="200.9" font-size="20.3" textLength="62" lengthAdjust="spacingAndGlyphs">Agent</text>
<text x="399.5" y="101.0" font-size="22.5" textLength="189.5" lengthAdjust="spacingAndGlyphs">shields collected</text>
<line x1="335.2" y1="93.3" x2="382.5" y2="93.3" stroke="#3567a3" stroke-width="2.9"/>
<text x="399.5" y="134.8" font-size="22.5" textLength="148" lengthAdjust="spacingAndGlyphs">apples eaten</text>
<line x1="335.2" y1="126.5" x2="382.5" y2="126.5" stroke="#3b8a77" stroke-width="2.9"/>
<text x="399.5" y="168.5" font-size="22.5" textLength="152" lengthAdjust="spacingAndGlyphs">monsters left</text>
<line x1="335.2" y1="160.3" x2="382.5" y2="160.3" stroke="#c0447a" stroke-width="2.9"/>
<text x="399.5" y="234.0" font-size="22.5" textLength="82" lengthAdjust="spacingAndGlyphs">train25</text>
<line x1="335.2" y1="225.6" x2="382.5" y2="225.6" stroke="#262626" stroke-width="2.9"/>
<text x="399.5" y="267.2" font-size="22.5" textLength="97" lengthAdjust="spacingAndGlyphs">train100</text>
<line x1="335.2" y1="259.7" x2="382.5" y2="259.7" stroke="#262626" stroke-width="2.9" stroke-dasharray="6.5 18.2"/>
<text x="399.5" y="301.0" font-size="22.5" textLength="97" lengthAdjust="spacingAndGlyphs">train200</text>
<line x1="335.2" y1="293.2" x2="381.5" y2="293.2" stroke="#262626" stroke-width="2.9" stroke-dasharray="3 6.3"/>
<text x="399.5" y="334.3" font-size="22.5" textLength="88.5" lengthAdjust="spacingAndGlyphs">random</text>
<line x1="335.2" y1="326.6" x2="382.5" y2="326.6" stroke="#262626" stroke-width="2.9" stroke-dasharray="9.5 31 3 40"/>
<line x1="815.6" y1="86.4" x2="815.6" y2="212" stroke="#3a7f74" stroke-width="1.7"/>
<path d="M808.9,210.9 L822.3,210.9 L815.6,225.2 Z" fill="#3b8a77"/>
<line x1="815.6" y1="394" x2="815.6" y2="420.4" stroke="#3d6090" stroke-width="1.7"/>
<path d="M808.9,395.6 L822.3,395.6 L815.6,381.7 Z" fill="#3567a3"/>
<line x1="314.7" y1="30.5" x2="314.7" y2="567.8" stroke="#262626" stroke-width="2.4"/>
<line x1="313.5" y1="566.8" x2="846.7" y2="566.8" stroke="#262626" stroke-width="2.4"/>
<line x1="302.5" y1="542.60" x2="314.7" y2="542.60" stroke="#262626" stroke-width="2.2"/>
<line x1="302.5" y1="480.10" x2="314.7" y2="480.10" stroke="#262626" stroke-width="2.2"/>
<line x1="302.5" y1="417.60" x2="314.7" y2="417.60" stroke="#262626" stroke-width="2.2"/>
<line x1="302.5" y1="355.10" x2="314.7" y2="355.10" stroke="#262626" stroke-width="2.2"/>
<line x1="302.5" y1="292.60" x2="314.7" y2="292.60" stroke="#262626" stroke-width="2.2"/>
<line x1="302.5" y1="230.10" x2="314.7" y2="230.10" stroke="#262626" stroke-width="2.2"/>
<line x1="302.5" y1="167.60" x2="314.7" y2="167.60" stroke="#262626" stroke-width="2.2"/>
<line x1="302.5" y1="105.10" x2="314.7" y2="105.10" stroke="#262626" stroke-width="2.2"/>
<line x1="302.5" y1="42.60" x2="314.7" y2="42.60" stroke="#262626" stroke-width="2.2"/>
<line x1="336.30" y1="566.8" x2="336.30" y2="579.30" stroke="#262626" stroke-width="2.2"/>
<line x1="396.21" y1="566.8" x2="396.21" y2="574.80" stroke="#262626" stroke-width="2.2"/>
<line x1="456.12" y1="566.8" x2="456.12" y2="579.30" stroke="#262626" stroke-width="2.2"/>
<line x1="516.04" y1="566.8" x2="516.04" y2="574.80" stroke="#262626" stroke-width="2.2"/>
<line x1="575.95" y1="566.8" x2="575.95" y2="579.30" stroke="#262626" stroke-width="2.2"/>
<line x1="635.86" y1="566.8" x2="635.86" y2="574.80" stroke="#262626" stroke-width="2.2"/>
<line x1="695.78" y1="566.8" x2="695.78" y2="579.30" stroke="#262626" stroke-width="2.2"/>
<line x1="755.69" y1="566.8" x2="755.69" y2="574.80" stroke="#262626" stroke-width="2.2"/>
<line x1="815.60" y1="566.8" x2="815.60" y2="579.30" stroke="#262626" stroke-width="2.2"/>
<text x="292.0" y="551.70" text-anchor="end" font-size="23" textLength="12.6" lengthAdjust="spacingAndGlyphs">0</text>
<text x="292.0" y="489.20" text-anchor="end" font-size="23" textLength="12.6" lengthAdjust="spacingAndGlyphs">5</text>
<text x="291.5" y="426.70" text-anchor="end" font-size="23" textLength="26.6" lengthAdjust="spacingAndGlyphs">10</text>
<text x="291.5" y="364.20" text-anchor="end" font-size="23" textLength="26.6" lengthAdjust="spacingAndGlyphs">15</text>
<text x="291.5" y="301.70" text-anchor="end" font-size="23" textLength="26.6" lengthAdjust="spacingAndGlyphs">20</text>
<text x="291.5" y="239.20" text-anchor="end" font-size="23" textLength="26.6" lengthAdjust="spacingAndGlyphs">25</text>
<text x="291.5" y="176.70" text-anchor="end" font-size="23" textLength="26.6" lengthAdjust="spacingAndGlyphs">30</text>
<text x="291.5" y="114.20" text-anchor="end" font-size="23" textLength="26.6" lengthAdjust="spacingAndGlyphs">35</text>
<text x="291.5" y="51.70" text-anchor="end" font-size="23" textLength="26.6" lengthAdjust="spacingAndGlyphs">40</text>
<text x="336.30" y="605.6" text-anchor="middle" font-size="23" textLength="13.3" lengthAdjust="spacingAndGlyphs">0</text>
<text x="456.12" y="605.6" text-anchor="middle" font-size="23" textLength="26.6" lengthAdjust="spacingAndGlyphs">50</text>
<text x="575.95" y="605.6" text-anchor="middle" font-size="23" textLength="41.2" lengthAdjust="spacingAndGlyphs">100</text>
<text x="695.78" y="605.6" text-anchor="middle" font-size="23" textLength="41.2" lengthAdjust="spacingAndGlyphs">150</text>
<text x="815.60" y="605.6" text-anchor="middle" font-size="23" textLength="41.2" lengthAdjust="spacingAndGlyphs">200</text>
<text x="0" y="0" transform="translate(249.2,298.7) rotate(-90)" text-anchor="middle" font-size="20.3" textLength="58.7" lengthAdjust="spacingAndGlyphs">Value</text>
<text x="580.2" y="636.7" text-anchor="middle" font-size="20" textLength="133.5" lengthAdjust="spacingAndGlyphs">Episode step</text>
</svg>
<span class="w" style="left:24.00px;top:676.0px">Figure</span>
<span class="w" style="left:95.25px;top:676.0px">2:</span>
<span class="w" style="left:125.25px;top:676.0px"><b>Monster</b></span>
<span class="w" style="left:225.25px;top:676.0px"><b>Gridworld.</b></span>
<span class="w" style="left:357.75px;top:676.0px">We</span>
<span class="w" style="left:396.50px;top:676.0px">visualize</span>
<span class="w" style="left:495.25px;top:676.0px">summary</span>
<span class="w" style="left:599.00px;top:676.0px">statistics</span>
<span class="w" style="left:694.00px;top:676.0px">for</span>
<span class="w" style="left:731.50px;top:676.0px">different</span>
<span class="w" style="left:824.00px;top:676.0px">agents</span>
<span class="w" style="left:897.75px;top:676.0px">over</span>
<span class="w" style="left:949.00px;top:676.0px">the</span>
<span class="w" style="left:986.50px;top:676.0px">course</span>
<span class="w" style="left:24.00px;top:704.0px">of</span>
<span class="w" style="left:51.50px;top:704.0px">an</span>
<span class="w" style="left:81.50px;top:704.0px">episode,</span>
<span class="w" style="left:172.75px;top:704.0px">averaging</span>
<span class="w" style="left:279.00px;top:704.0px">over</span>
<span class="w" style="left:329.00px;top:704.0px">100</span>
<span class="w" style="left:374.00px;top:704.0px">episodes</span>
<span class="w" style="left:469.00px;top:704.0px">of</span>
<span class="w" style="left:495.25px;top:704.0px">200</span>
<span class="w" style="left:541.50px;top:704.0px">steps.</span>
<span class="w" style="left:606.50px;top:704.0px">Agent</span>
<span class="w" style="left:676.50px;top:704.0px"><span class="tt">train</span><i class="nn">N</i></span>
<span class="w" style="left:772.75px;top:704.0px">is</span>
<span class="w" style="left:796.00px;top:704.0px">trained</span>
<span class="w" style="left:874.00px;top:704.0px">on</span>
<span class="w" style="left:906.50px;top:704.0px">episode</span>
<span class="w" style="left:990.25px;top:704.0px">length</span>
<span class="w" style="left:24.00px;top:732.0px">of</span>
<span class="w" style="left:51.50px;top:732.0px"><i class="nn">N</i></span>
<span class="w" style="left:79.80px;top:732.0px">steps,</span>
<span class="w" style="left:143.20px;top:732.0px">and</span>
<span class="w" style="left:185.70px;top:732.0px"><span class="tt">random</span></span>
<span class="w" style="left:273.60px;top:732.0px">is</span>
<span class="w" style="left:295.70px;top:732.0px">a</span>
<span class="w" style="left:312.50px;top:732.0px">random</span>
<span class="w" style="left:395.50px;top:732.0px">agent.</span>
<span class="w" style="left:462.90px;top:732.0px">Note</span>
<span class="w" style="left:520.30px;top:732.0px">that</span>
<span class="w" style="left:563.00px;top:732.0px">lines</span>
<span class="w" style="left:616.20px;top:732.0px">corresponding</span>
<span class="w" style="left:767.90px;top:732.0px">to</span>
<span class="w" style="left:794.60px;top:732.0px"><span class="tt">train</span>100</span>
<span class="w" style="left:905.20px;top:732.0px">and</span>
<span class="w" style="left:948.70px;top:732.0px"><span class="tt">train</span>200</span>
<span class="w" style="left:24.00px;top:759.7px">are</span>
<span class="w" style="left:62.00px;top:759.7px">nearly</span>
<span class="w" style="left:133.00px;top:759.7px">identical</span>
<span class="w" style="left:228.00px;top:759.7px">and</span>
<span class="w" style="left:271.00px;top:759.7px">mostly</span>
<span class="w" style="left:348.00px;top:759.7px">overlap.</span>
</body></html>
